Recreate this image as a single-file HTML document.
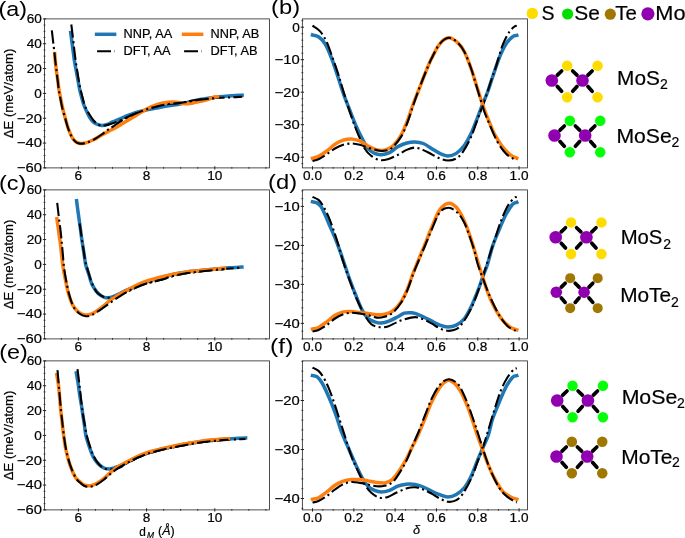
<!DOCTYPE html>
<html><head><meta charset="utf-8"><title>figure</title>
<style>html,body{margin:0;padding:0;background:#fff;} body{width:685px;height:538px;overflow:hidden;} svg{display:block;will-change:transform;} text{font-family:"Liberation Sans", sans-serif;stroke:#000;stroke-width:0.2px;}</style>
</head><body>
<svg width="685" height="538" viewBox="0 0 685 538" font-family='"Liberation Sans", sans-serif'>
<rect width="685" height="538" fill="#fff"/>
<defs>
<clipPath id="cl0"><rect x="44.5" y="18.9" width="225.0" height="149.0"/></clipPath>
<clipPath id="cr0"><rect x="302.35" y="18.9" width="225.04999999999995" height="149.0"/></clipPath>
<clipPath id="cl1"><rect x="44.5" y="189.9" width="225.0" height="148.99999999999997"/></clipPath>
<clipPath id="cr1"><rect x="302.35" y="189.9" width="225.04999999999995" height="148.99999999999997"/></clipPath>
<clipPath id="cl2"><rect x="44.5" y="360.9" width="225.0" height="149.0"/></clipPath>
<clipPath id="cr2"><rect x="302.35" y="360.9" width="225.04999999999995" height="149.0"/></clipPath>
</defs>
<path d="M70.70,32.50 C70.95,34.42 71.75,40.58 72.20,44.00 C72.65,47.42 73.05,50.33 73.40,53.00 C73.75,55.67 73.92,57.50 74.30,60.00 C74.68,62.50 75.25,65.50 75.70,68.00 C76.15,70.50 76.57,72.67 77.00,75.00 C77.43,77.33 77.83,79.50 78.30,82.00 C78.77,84.50 79.12,87.00 79.80,90.00 C80.48,93.00 81.72,97.50 82.40,100.00 C83.08,102.50 83.30,103.33 83.90,105.00 C84.50,106.67 85.25,108.33 86.00,110.00 C86.75,111.67 87.48,113.33 88.40,115.00 C89.32,116.67 90.23,118.53 91.50,120.00 C92.77,121.47 94.30,122.90 96.00,123.80 C97.70,124.70 99.87,125.28 101.70,125.40 C103.53,125.52 105.28,125.03 107.00,124.50 C108.72,123.97 110.67,122.78 112.00,122.20 C113.33,121.62 113.38,121.70 115.00,121.00 C116.62,120.30 118.63,119.27 121.70,118.00 C124.77,116.73 129.52,114.67 133.40,113.40 C137.28,112.13 141.12,111.28 145.00,110.40 C148.88,109.52 152.80,108.87 156.70,108.10 C160.60,107.33 164.50,106.48 168.40,105.80 C172.30,105.12 176.50,104.68 180.10,104.00 C183.70,103.32 186.68,102.43 190.00,101.70 C193.32,100.97 195.17,100.42 200.00,99.60 C204.83,98.78 213.67,97.43 219.00,96.80 C224.33,96.17 228.15,96.07 232.00,95.80 C235.85,95.53 240.42,95.30 242.10,95.20" fill="none" stroke="#1f77b4" stroke-width="3.5" stroke-linecap="square" stroke-linejoin="round" clip-path="url(#cl0)"/>
<path d="M71.30,24.50 C71.52,26.25 72.15,31.25 72.60,35.00 C73.05,38.75 73.62,43.67 74.00,47.00 C74.38,50.33 74.52,52.00 74.90,55.00 C75.28,58.00 75.80,61.67 76.30,65.00 C76.80,68.33 77.42,72.00 77.90,75.00 C78.38,78.00 78.75,80.50 79.20,83.00 C79.65,85.50 79.93,87.17 80.60,90.00 C81.27,92.83 82.53,97.50 83.20,100.00 C83.87,102.50 83.98,103.33 84.60,105.00 C85.22,106.67 86.03,108.33 86.90,110.00 C87.77,111.67 88.68,113.25 89.80,115.00 C90.92,116.75 92.40,119.05 93.60,120.50 C94.80,121.95 95.88,122.88 97.00,123.70 C98.12,124.52 98.80,125.13 100.30,125.40 C101.80,125.67 104.05,125.60 106.00,125.30 C107.95,125.00 109.38,124.52 112.00,123.60 C114.62,122.68 118.13,121.32 121.70,119.80 C125.27,118.28 129.52,116.15 133.40,114.50 C137.28,112.85 141.12,111.25 145.00,109.90 C148.88,108.55 152.80,107.38 156.70,106.40 C160.60,105.42 164.50,104.58 168.40,104.00 C172.30,103.42 176.50,103.38 180.10,102.90 C183.70,102.42 186.68,101.65 190.00,101.10 C193.32,100.55 196.50,100.03 200.00,99.60 C203.50,99.17 207.35,98.80 211.00,98.50 C214.65,98.20 218.27,98.00 221.90,97.80 C225.53,97.60 229.40,97.48 232.80,97.30 C236.20,97.12 240.72,96.80 242.30,96.70" fill="none" stroke="#000" stroke-width="2.1" stroke-dasharray="13.4 3.4 2.1 3.4" stroke-linecap="butt" stroke-linejoin="round" clip-path="url(#cl0)"/>
<path d="M54.70,53.60 C54.82,55.00 55.12,59.10 55.40,62.00 C55.68,64.90 56.00,68.00 56.40,71.00 C56.80,74.00 57.37,76.83 57.80,80.00 C58.23,83.17 58.53,87.00 59.00,90.00 C59.47,93.00 60.00,95.00 60.60,98.00 C61.20,101.00 61.83,104.67 62.60,108.00 C63.37,111.33 64.28,114.67 65.20,118.00 C66.12,121.33 67.15,125.17 68.10,128.00 C69.05,130.83 70.00,133.08 70.90,135.00 C71.80,136.92 72.53,138.28 73.50,139.50 C74.47,140.72 75.58,141.63 76.70,142.30 C77.82,142.97 78.98,143.33 80.20,143.50 C81.42,143.67 82.70,143.53 84.00,143.30 C85.30,143.07 86.33,142.73 88.00,142.10 C89.67,141.47 91.72,140.68 94.00,139.50 C96.28,138.32 99.30,136.35 101.70,135.00 C104.10,133.65 106.18,132.57 108.40,131.40 C110.62,130.23 112.78,129.25 115.00,128.00 C117.22,126.75 118.63,125.75 121.70,123.90 C124.77,122.05 129.52,119.23 133.40,116.90 C137.28,114.57 141.12,111.95 145.00,109.90 C148.88,107.85 152.80,105.87 156.70,104.60 C160.60,103.33 165.08,102.68 168.40,102.30 C171.72,101.92 173.87,102.05 176.60,102.30 C179.33,102.55 182.23,103.65 184.80,103.80 C187.37,103.95 189.47,103.60 192.00,103.20 C194.53,102.80 197.45,102.00 200.00,101.40 C202.55,100.80 204.87,100.33 207.30,99.60 C209.73,98.87 212.92,97.48 214.60,97.00 C216.28,96.52 216.93,96.75 217.40,96.70" fill="none" stroke="#ff7f0e" stroke-width="3.5" stroke-linecap="square" stroke-linejoin="round" clip-path="url(#cl0)"/>
<path d="M51.80,30.30 C51.93,31.42 52.35,34.85 52.60,37.00 C52.85,39.15 53.00,40.68 53.30,43.20 C53.60,45.72 54.08,49.30 54.40,52.10 C54.72,54.90 54.87,57.02 55.20,60.00 C55.53,62.98 56.00,66.67 56.40,70.00 C56.80,73.33 57.20,76.67 57.60,80.00 C58.00,83.33 58.35,87.00 58.80,90.00 C59.25,93.00 59.72,95.00 60.30,98.00 C60.88,101.00 61.50,104.67 62.30,108.00 C63.10,111.33 64.15,114.67 65.10,118.00 C66.05,121.33 67.05,125.17 68.00,128.00 C68.95,130.83 69.88,133.05 70.80,135.00 C71.72,136.95 72.52,138.43 73.50,139.70 C74.48,140.97 75.62,141.95 76.70,142.60 C77.78,143.25 78.78,143.47 80.00,143.60 C81.22,143.73 82.67,143.63 84.00,143.40 C85.33,143.17 86.33,142.85 88.00,142.20 C89.67,141.55 91.72,140.78 94.00,139.50 C96.28,138.22 99.30,136.18 101.70,134.50 C104.10,132.82 106.55,130.72 108.40,129.40 C110.25,128.08 110.58,128.08 112.80,126.60 C115.02,125.12 118.27,122.52 121.70,120.50 C125.13,118.48 129.52,116.27 133.40,114.50 C137.28,112.73 141.12,111.25 145.00,109.90 C148.88,108.55 152.80,107.38 156.70,106.40 C160.60,105.42 164.50,104.58 168.40,104.00 C172.30,103.42 176.50,103.33 180.10,102.90 C183.70,102.47 186.68,101.92 190.00,101.40 C193.32,100.88 196.50,100.28 200.00,99.80 C203.50,99.32 208.10,98.80 211.00,98.50 C213.90,98.20 216.33,98.08 217.40,98.00" fill="none" stroke="#000" stroke-width="2.1" stroke-dasharray="13.4 3.4 2.1 3.4" stroke-linecap="butt" stroke-linejoin="round" clip-path="url(#cl0)"/>
<path d="M312.50,35.00 C313.50,35.30 316.40,35.33 318.50,36.80 C320.60,38.27 322.90,40.18 325.10,43.80 C327.30,47.42 329.63,53.22 331.70,58.50 C333.77,63.78 335.57,69.70 337.50,75.50 C339.43,81.30 341.23,87.47 343.30,93.30 C345.37,99.13 347.70,104.88 349.90,110.50 C352.10,116.12 354.45,122.32 356.50,127.00 C358.55,131.68 360.28,135.02 362.20,138.60 C364.12,142.18 365.93,146.03 368.00,148.50 C370.07,150.97 372.40,152.37 374.60,153.40 C376.80,154.43 378.72,154.83 381.20,154.70 C383.68,154.57 386.75,153.92 389.50,152.60 C392.25,151.28 394.95,148.37 397.70,146.80 C400.45,145.23 403.12,144.02 406.00,143.20 C408.88,142.38 412.12,141.85 415.00,141.90 C417.88,141.95 420.55,142.40 423.30,143.50 C426.05,144.60 428.75,146.85 431.50,148.50 C434.25,150.15 437.05,152.17 439.80,153.40 C442.55,154.63 445.25,155.90 448.00,155.90 C450.75,155.90 453.55,155.18 456.30,153.40 C459.05,151.62 462.03,148.50 464.50,145.20 C466.97,141.90 468.90,138.28 471.10,133.60 C473.30,128.92 475.77,122.05 477.70,117.10 C479.63,112.15 481.05,108.08 482.70,103.90 C484.35,99.72 485.95,96.48 487.60,92.00 C489.25,87.52 490.67,82.67 492.60,77.00 C494.53,71.33 497.00,63.45 499.20,58.00 C501.40,52.55 503.60,47.83 505.80,44.30 C508.00,40.77 510.57,38.28 512.40,36.80 C514.23,35.32 516.07,35.65 516.80,35.42" fill="none" stroke="#1f77b4" stroke-width="3.5" stroke-linecap="square" stroke-linejoin="round" clip-path="url(#cr0)"/>
<path d="M312.50,25.60 C313.78,26.57 317.82,28.65 320.20,31.40 C322.58,34.15 324.88,38.12 326.80,42.10 C328.72,46.08 329.92,50.35 331.70,55.30 C333.48,60.25 335.72,66.35 337.50,71.80 C339.28,77.25 340.40,81.47 342.40,88.00 C344.40,94.53 347.15,103.95 349.50,111.00 C351.85,118.05 353.97,124.05 356.50,130.30 C359.03,136.55 362.23,144.23 364.70,148.50 C367.17,152.77 368.82,153.98 371.30,155.90 C373.78,157.82 376.85,159.45 379.60,160.00 C382.35,160.55 384.78,160.03 387.80,159.20 C390.82,158.37 394.67,156.52 397.70,155.00 C400.73,153.48 403.12,151.33 406.00,150.10 C408.88,148.87 412.12,147.60 415.00,147.60 C417.88,147.60 420.55,149.00 423.30,150.10 C426.05,151.20 428.75,152.82 431.50,154.20 C434.25,155.58 437.05,157.35 439.80,158.40 C442.55,159.45 445.25,160.50 448.00,160.50 C450.75,160.50 453.82,159.85 456.30,158.40 C458.78,156.95 460.43,155.38 462.90,151.80 C465.37,148.22 468.63,142.40 471.10,136.90 C473.57,131.40 475.77,124.02 477.70,118.80 C479.63,113.58 481.18,109.73 482.70,105.60 C484.22,101.47 485.33,98.35 486.80,94.00 C488.27,89.65 489.98,84.02 491.50,79.50 C493.02,74.98 494.07,72.58 495.90,66.90 C497.73,61.22 500.30,51.18 502.50,45.40 C504.70,39.62 507.10,35.35 509.10,32.20 C511.10,29.05 513.22,27.59 514.50,26.50 C515.78,25.41 516.42,25.79 516.80,25.65" fill="none" stroke="#000" stroke-width="2.1" stroke-dasharray="13.4 3.4 2.1 3.4" stroke-linecap="butt" stroke-linejoin="round" clip-path="url(#cr0)"/>
<path d="M312.50,158.20 C313.50,157.90 316.12,157.60 318.50,156.40 C320.88,155.20 324.05,153.02 326.80,151.00 C329.55,148.98 332.25,146.10 335.00,144.30 C337.75,142.50 340.55,141.10 343.30,140.20 C346.05,139.30 348.75,138.77 351.50,138.90 C354.25,139.03 357.05,139.82 359.80,141.00 C362.55,142.18 365.25,144.53 368.00,146.00 C370.75,147.47 373.55,149.12 376.30,149.80 C379.05,150.48 381.75,150.73 384.50,150.10 C387.25,149.47 390.05,148.47 392.80,146.00 C395.55,143.53 398.53,139.57 401.00,135.30 C403.47,131.03 405.60,125.53 407.60,120.40 C409.60,115.27 411.22,109.40 413.00,104.50 C414.78,99.60 416.32,96.08 418.30,91.00 C420.28,85.92 422.70,79.40 424.90,74.00 C427.10,68.60 429.02,63.63 431.50,58.60 C433.98,53.57 436.92,47.27 439.80,43.80 C442.68,40.33 445.78,37.95 448.80,37.80 C451.82,37.65 455.28,40.53 457.90,42.90 C460.52,45.27 462.30,47.73 464.50,52.00 C466.70,56.27 469.18,63.17 471.10,68.50 C473.02,73.83 474.43,79.08 476.00,84.00 C477.57,88.92 479.00,93.42 480.50,98.00 C482.00,102.58 483.50,107.42 485.00,111.50 C486.50,115.58 487.97,118.82 489.50,122.50 C491.03,126.18 492.03,129.55 494.20,133.60 C496.37,137.65 499.75,143.22 502.50,146.80 C505.25,150.38 508.32,153.21 510.70,155.10 C513.08,156.99 515.78,157.64 516.80,158.15" fill="none" stroke="#ff7f0e" stroke-width="3.5" stroke-linecap="square" stroke-linejoin="round" clip-path="url(#cr0)"/>
<path d="M312.50,160.90 C313.50,160.62 316.12,160.32 318.50,159.20 C320.88,158.08 324.05,155.98 326.80,154.20 C329.55,152.42 332.25,150.07 335.00,148.50 C337.75,146.93 340.55,145.63 343.30,144.80 C346.05,143.97 348.75,143.50 351.50,143.50 C354.25,143.50 357.05,144.12 359.80,144.80 C362.55,145.48 365.25,146.72 368.00,147.60 C370.75,148.48 373.82,149.55 376.30,150.10 C378.78,150.65 380.43,151.17 382.90,150.90 C385.37,150.63 388.08,150.83 391.10,148.50 C394.12,146.17 398.25,141.32 401.00,136.90 C403.75,132.48 405.60,127.15 407.60,122.00 C409.60,116.85 411.22,111.17 413.00,106.00 C414.78,100.83 416.32,96.33 418.30,91.00 C420.28,85.67 422.70,79.40 424.90,74.00 C427.10,68.60 429.02,63.63 431.50,58.60 C433.98,53.57 436.92,47.27 439.80,43.80 C442.68,40.33 445.78,37.95 448.80,37.80 C451.82,37.65 455.28,40.53 457.90,42.90 C460.52,45.27 462.30,47.73 464.50,52.00 C466.70,56.27 469.18,63.08 471.10,68.50 C473.02,73.92 474.43,79.33 476.00,84.50 C477.57,89.67 479.08,94.92 480.50,99.50 C481.92,104.08 483.03,107.97 484.50,112.00 C485.97,116.03 487.13,118.72 489.30,123.70 C491.47,128.68 494.75,136.95 497.50,141.90 C500.25,146.85 503.05,150.52 505.80,153.40 C508.55,156.28 512.17,158.13 514.00,159.20 C515.83,160.27 516.33,159.70 516.80,159.80" fill="none" stroke="#000" stroke-width="2.1" stroke-dasharray="13.4 3.4 2.1 3.4" stroke-linecap="butt" stroke-linejoin="round" clip-path="url(#cr0)"/>
<rect x="44.50" y="18.90" width="225.00" height="149.00" fill="none" stroke="#222" stroke-width="0.8"/>
<line x1="43.55" y1="161.69" x2="45.45" y2="161.69" stroke="#222" stroke-width="0.8"/>
<line x1="43.55" y1="155.48" x2="45.45" y2="155.48" stroke="#222" stroke-width="0.8"/>
<line x1="43.55" y1="149.28" x2="45.45" y2="149.28" stroke="#222" stroke-width="0.8"/>
<line x1="43.55" y1="136.86" x2="45.45" y2="136.86" stroke="#222" stroke-width="0.8"/>
<line x1="43.55" y1="130.65" x2="45.45" y2="130.65" stroke="#222" stroke-width="0.8"/>
<line x1="43.55" y1="124.44" x2="45.45" y2="124.44" stroke="#222" stroke-width="0.8"/>
<line x1="43.55" y1="112.03" x2="45.45" y2="112.03" stroke="#222" stroke-width="0.8"/>
<line x1="43.55" y1="105.82" x2="45.45" y2="105.82" stroke="#222" stroke-width="0.8"/>
<line x1="43.55" y1="99.61" x2="45.45" y2="99.61" stroke="#222" stroke-width="0.8"/>
<line x1="43.55" y1="87.19" x2="45.45" y2="87.19" stroke="#222" stroke-width="0.8"/>
<line x1="43.55" y1="80.98" x2="45.45" y2="80.98" stroke="#222" stroke-width="0.8"/>
<line x1="43.55" y1="74.78" x2="45.45" y2="74.78" stroke="#222" stroke-width="0.8"/>
<line x1="43.55" y1="62.36" x2="45.45" y2="62.36" stroke="#222" stroke-width="0.8"/>
<line x1="43.55" y1="56.15" x2="45.45" y2="56.15" stroke="#222" stroke-width="0.8"/>
<line x1="43.55" y1="49.94" x2="45.45" y2="49.94" stroke="#222" stroke-width="0.8"/>
<line x1="43.55" y1="37.52" x2="45.45" y2="37.52" stroke="#222" stroke-width="0.8"/>
<line x1="43.55" y1="31.32" x2="45.45" y2="31.32" stroke="#222" stroke-width="0.8"/>
<line x1="43.55" y1="25.11" x2="45.45" y2="25.11" stroke="#222" stroke-width="0.8"/>
<line x1="42.85" y1="18.90" x2="46.15" y2="18.90" stroke="#222" stroke-width="1"/>
<text x="41.90" y="23.20" font-size="12.61" text-anchor="end" textLength="15.14" lengthAdjust="spacingAndGlyphs" fill="#000">60</text>
<line x1="42.85" y1="43.73" x2="46.15" y2="43.73" stroke="#222" stroke-width="1"/>
<text x="41.90" y="48.03" font-size="12.61" text-anchor="end" textLength="15.14" lengthAdjust="spacingAndGlyphs" fill="#000">40</text>
<line x1="42.85" y1="68.57" x2="46.15" y2="68.57" stroke="#222" stroke-width="1"/>
<text x="41.90" y="72.87" font-size="12.61" text-anchor="end" textLength="15.14" lengthAdjust="spacingAndGlyphs" fill="#000">20</text>
<line x1="42.85" y1="93.40" x2="46.15" y2="93.40" stroke="#222" stroke-width="1"/>
<text x="41.90" y="97.70" font-size="12.61" text-anchor="end" textLength="7.57" lengthAdjust="spacingAndGlyphs" fill="#000">0</text>
<line x1="42.85" y1="118.23" x2="46.15" y2="118.23" stroke="#222" stroke-width="1"/>
<text x="41.90" y="122.53" font-size="12.61" text-anchor="end" textLength="25.11" lengthAdjust="spacingAndGlyphs" fill="#000">−20</text>
<line x1="42.85" y1="143.07" x2="46.15" y2="143.07" stroke="#222" stroke-width="1"/>
<text x="41.90" y="147.37" font-size="12.61" text-anchor="end" textLength="25.11" lengthAdjust="spacingAndGlyphs" fill="#000">−40</text>
<line x1="42.85" y1="167.90" x2="46.15" y2="167.90" stroke="#222" stroke-width="1"/>
<text x="41.90" y="172.20" font-size="12.61" text-anchor="end" textLength="25.11" lengthAdjust="spacingAndGlyphs" fill="#000">−60</text>
<line x1="61.35" y1="166.95" x2="61.35" y2="168.85" stroke="#222" stroke-width="0.8"/>
<line x1="95.45" y1="166.95" x2="95.45" y2="168.85" stroke="#222" stroke-width="0.8"/>
<line x1="112.50" y1="166.95" x2="112.50" y2="168.85" stroke="#222" stroke-width="0.8"/>
<line x1="129.55" y1="166.95" x2="129.55" y2="168.85" stroke="#222" stroke-width="0.8"/>
<line x1="163.65" y1="166.95" x2="163.65" y2="168.85" stroke="#222" stroke-width="0.8"/>
<line x1="180.70" y1="166.95" x2="180.70" y2="168.85" stroke="#222" stroke-width="0.8"/>
<line x1="197.75" y1="166.95" x2="197.75" y2="168.85" stroke="#222" stroke-width="0.8"/>
<line x1="231.85" y1="166.95" x2="231.85" y2="168.85" stroke="#222" stroke-width="0.8"/>
<line x1="248.90" y1="166.95" x2="248.90" y2="168.85" stroke="#222" stroke-width="0.8"/>
<line x1="265.95" y1="166.95" x2="265.95" y2="168.85" stroke="#222" stroke-width="0.8"/>
<line x1="78.40" y1="166.25" x2="78.40" y2="169.55" stroke="#222" stroke-width="1"/>
<text x="78.40" y="179.80" font-size="12.61" text-anchor="middle" textLength="7.57" lengthAdjust="spacingAndGlyphs" fill="#000">6</text>
<line x1="146.60" y1="166.25" x2="146.60" y2="169.55" stroke="#222" stroke-width="1"/>
<text x="146.60" y="179.80" font-size="12.61" text-anchor="middle" textLength="7.57" lengthAdjust="spacingAndGlyphs" fill="#000">8</text>
<line x1="214.80" y1="166.25" x2="214.80" y2="169.55" stroke="#222" stroke-width="1"/>
<text x="214.80" y="179.80" font-size="12.61" text-anchor="middle" textLength="15.14" lengthAdjust="spacingAndGlyphs" fill="#000">10</text>
<rect x="302.35" y="18.90" width="225.05" height="149.00" fill="none" stroke="#222" stroke-width="0.8"/>
<line x1="301.40" y1="163.70" x2="303.30" y2="163.70" stroke="#222" stroke-width="0.8"/>
<line x1="301.40" y1="150.70" x2="303.30" y2="150.70" stroke="#222" stroke-width="0.8"/>
<line x1="301.40" y1="144.20" x2="303.30" y2="144.20" stroke="#222" stroke-width="0.8"/>
<line x1="301.40" y1="137.70" x2="303.30" y2="137.70" stroke="#222" stroke-width="0.8"/>
<line x1="301.40" y1="131.20" x2="303.30" y2="131.20" stroke="#222" stroke-width="0.8"/>
<line x1="301.40" y1="118.20" x2="303.30" y2="118.20" stroke="#222" stroke-width="0.8"/>
<line x1="301.40" y1="111.70" x2="303.30" y2="111.70" stroke="#222" stroke-width="0.8"/>
<line x1="301.40" y1="105.20" x2="303.30" y2="105.20" stroke="#222" stroke-width="0.8"/>
<line x1="301.40" y1="98.70" x2="303.30" y2="98.70" stroke="#222" stroke-width="0.8"/>
<line x1="301.40" y1="85.70" x2="303.30" y2="85.70" stroke="#222" stroke-width="0.8"/>
<line x1="301.40" y1="79.20" x2="303.30" y2="79.20" stroke="#222" stroke-width="0.8"/>
<line x1="301.40" y1="72.70" x2="303.30" y2="72.70" stroke="#222" stroke-width="0.8"/>
<line x1="301.40" y1="66.20" x2="303.30" y2="66.20" stroke="#222" stroke-width="0.8"/>
<line x1="301.40" y1="53.20" x2="303.30" y2="53.20" stroke="#222" stroke-width="0.8"/>
<line x1="301.40" y1="46.70" x2="303.30" y2="46.70" stroke="#222" stroke-width="0.8"/>
<line x1="301.40" y1="40.20" x2="303.30" y2="40.20" stroke="#222" stroke-width="0.8"/>
<line x1="301.40" y1="33.70" x2="303.30" y2="33.70" stroke="#222" stroke-width="0.8"/>
<line x1="301.40" y1="20.70" x2="303.30" y2="20.70" stroke="#222" stroke-width="0.8"/>
<line x1="300.70" y1="27.20" x2="304.00" y2="27.20" stroke="#222" stroke-width="1"/>
<text x="299.75" y="31.50" font-size="12.61" text-anchor="end" textLength="7.57" lengthAdjust="spacingAndGlyphs" fill="#000">0</text>
<line x1="300.70" y1="59.70" x2="304.00" y2="59.70" stroke="#222" stroke-width="1"/>
<text x="299.75" y="64.00" font-size="12.61" text-anchor="end" textLength="25.11" lengthAdjust="spacingAndGlyphs" fill="#000">−10</text>
<line x1="300.70" y1="92.20" x2="304.00" y2="92.20" stroke="#222" stroke-width="1"/>
<text x="299.75" y="96.50" font-size="12.61" text-anchor="end" textLength="25.11" lengthAdjust="spacingAndGlyphs" fill="#000">−20</text>
<line x1="300.70" y1="124.70" x2="304.00" y2="124.70" stroke="#222" stroke-width="1"/>
<text x="299.75" y="129.00" font-size="12.61" text-anchor="end" textLength="25.11" lengthAdjust="spacingAndGlyphs" fill="#000">−30</text>
<line x1="300.70" y1="157.20" x2="304.00" y2="157.20" stroke="#222" stroke-width="1"/>
<text x="299.75" y="161.50" font-size="12.61" text-anchor="end" textLength="25.11" lengthAdjust="spacingAndGlyphs" fill="#000">−40</text>
<line x1="322.83" y1="166.95" x2="322.83" y2="168.85" stroke="#222" stroke-width="0.8"/>
<line x1="333.16" y1="166.95" x2="333.16" y2="168.85" stroke="#222" stroke-width="0.8"/>
<line x1="343.49" y1="166.95" x2="343.49" y2="168.85" stroke="#222" stroke-width="0.8"/>
<line x1="364.15" y1="166.95" x2="364.15" y2="168.85" stroke="#222" stroke-width="0.8"/>
<line x1="374.48" y1="166.95" x2="374.48" y2="168.85" stroke="#222" stroke-width="0.8"/>
<line x1="384.81" y1="166.95" x2="384.81" y2="168.85" stroke="#222" stroke-width="0.8"/>
<line x1="405.47" y1="166.95" x2="405.47" y2="168.85" stroke="#222" stroke-width="0.8"/>
<line x1="415.80" y1="166.95" x2="415.80" y2="168.85" stroke="#222" stroke-width="0.8"/>
<line x1="426.13" y1="166.95" x2="426.13" y2="168.85" stroke="#222" stroke-width="0.8"/>
<line x1="446.79" y1="166.95" x2="446.79" y2="168.85" stroke="#222" stroke-width="0.8"/>
<line x1="457.12" y1="166.95" x2="457.12" y2="168.85" stroke="#222" stroke-width="0.8"/>
<line x1="467.45" y1="166.95" x2="467.45" y2="168.85" stroke="#222" stroke-width="0.8"/>
<line x1="488.11" y1="166.95" x2="488.11" y2="168.85" stroke="#222" stroke-width="0.8"/>
<line x1="498.44" y1="166.95" x2="498.44" y2="168.85" stroke="#222" stroke-width="0.8"/>
<line x1="508.77" y1="166.95" x2="508.77" y2="168.85" stroke="#222" stroke-width="0.8"/>
<line x1="312.50" y1="166.25" x2="312.50" y2="169.55" stroke="#222" stroke-width="1"/>
<text x="312.50" y="179.80" font-size="12.61" text-anchor="middle" textLength="18.92" lengthAdjust="spacingAndGlyphs" fill="#000">0.0</text>
<line x1="353.82" y1="166.25" x2="353.82" y2="169.55" stroke="#222" stroke-width="1"/>
<text x="353.82" y="179.80" font-size="12.61" text-anchor="middle" textLength="18.92" lengthAdjust="spacingAndGlyphs" fill="#000">0.2</text>
<line x1="395.14" y1="166.25" x2="395.14" y2="169.55" stroke="#222" stroke-width="1"/>
<text x="395.14" y="179.80" font-size="12.61" text-anchor="middle" textLength="18.92" lengthAdjust="spacingAndGlyphs" fill="#000">0.4</text>
<line x1="436.46" y1="166.25" x2="436.46" y2="169.55" stroke="#222" stroke-width="1"/>
<text x="436.46" y="179.80" font-size="12.61" text-anchor="middle" textLength="18.92" lengthAdjust="spacingAndGlyphs" fill="#000">0.6</text>
<line x1="477.78" y1="166.25" x2="477.78" y2="169.55" stroke="#222" stroke-width="1"/>
<text x="477.78" y="179.80" font-size="12.61" text-anchor="middle" textLength="18.92" lengthAdjust="spacingAndGlyphs" fill="#000">0.8</text>
<line x1="519.10" y1="166.25" x2="519.10" y2="169.55" stroke="#222" stroke-width="1"/>
<text x="519.10" y="179.80" font-size="12.61" text-anchor="middle" textLength="18.92" lengthAdjust="spacingAndGlyphs" fill="#000">1.0</text>
<text x="12.80" y="93.40" font-size="12.46" text-anchor="middle" textLength="89.48" lengthAdjust="spacingAndGlyphs" fill="#000" transform="rotate(-90 12.8 93.40)">ΔE (meV/atom)</text>
<path d="M76.60,200.80 C76.80,202.33 77.42,207.15 77.80,210.00 C78.18,212.85 78.48,214.90 78.90,217.90 C79.32,220.90 79.83,224.52 80.30,228.00 C80.77,231.48 81.25,235.63 81.70,238.80 C82.15,241.97 82.58,244.30 83.00,247.00 C83.42,249.70 83.73,252.00 84.20,255.00 C84.67,258.00 85.03,261.78 85.80,265.00 C86.57,268.22 87.82,271.18 88.80,274.30 C89.78,277.42 90.43,280.87 91.70,283.70 C92.97,286.53 94.85,289.32 96.40,291.30 C97.95,293.28 99.45,294.53 101.00,295.60 C102.55,296.67 104.13,297.38 105.70,297.70 C107.27,298.02 108.85,297.80 110.40,297.50 C111.95,297.20 113.25,296.65 115.00,295.90 C116.75,295.15 118.95,293.95 120.90,293.00 C122.85,292.05 124.75,291.07 126.70,290.20 C128.65,289.33 130.65,288.63 132.60,287.80 C134.55,286.97 136.47,286.03 138.40,285.20 C140.33,284.37 142.25,283.53 144.20,282.80 C146.15,282.07 147.47,281.62 150.10,280.80 C152.73,279.98 155.90,279.03 160.00,277.90 C164.10,276.77 170.43,274.95 174.70,274.00 C178.97,273.05 181.95,272.72 185.60,272.20 C189.25,271.68 192.95,271.30 196.60,270.90 C200.25,270.50 203.85,270.15 207.50,269.80 C211.15,269.45 214.75,269.13 218.50,268.80 C222.25,268.47 226.10,268.08 230.00,267.80 C233.90,267.52 239.92,267.22 241.90,267.10" fill="none" stroke="#1f77b4" stroke-width="3.5" stroke-linecap="square" stroke-linejoin="round" clip-path="url(#cl1)"/>
<path d="M79.60,223.50 C79.83,225.08 80.53,229.75 81.00,233.00 C81.47,236.25 81.90,239.67 82.40,243.00 C82.90,246.33 83.50,249.83 84.00,253.00 C84.50,256.17 84.90,259.62 85.40,262.00 C85.90,264.38 86.37,265.13 87.00,267.30 C87.63,269.47 88.42,272.47 89.20,275.00 C89.98,277.53 90.82,280.25 91.70,282.50 C92.58,284.75 93.53,286.75 94.50,288.50 C95.47,290.25 96.02,291.62 97.50,293.00 C98.98,294.38 101.45,296.02 103.40,296.80 C105.35,297.58 107.27,297.75 109.20,297.70 C111.13,297.65 113.05,297.03 115.00,296.50 C116.95,295.97 118.95,295.25 120.90,294.50 C122.85,293.75 124.75,292.88 126.70,292.00 C128.65,291.12 130.65,290.10 132.60,289.20 C134.55,288.30 136.47,287.42 138.40,286.60 C140.33,285.78 142.25,284.98 144.20,284.30 C146.15,283.62 147.47,283.22 150.10,282.50 C152.73,281.78 155.90,281.15 160.00,280.00 C164.10,278.85 170.43,276.70 174.70,275.60 C178.97,274.50 181.95,274.02 185.60,273.40 C189.25,272.78 192.95,272.35 196.60,271.90 C200.25,271.45 203.85,271.08 207.50,270.70 C211.15,270.32 214.75,269.97 218.50,269.60 C222.25,269.23 226.10,268.83 230.00,268.50 C233.90,268.17 239.92,267.75 241.90,267.60" fill="none" stroke="#000" stroke-width="2.1" stroke-dasharray="13.4 3.4 2.1 3.4" stroke-linecap="butt" stroke-linejoin="round" clip-path="url(#cl1)"/>
<path d="M56.90,218.80 C57.10,220.17 57.70,224.13 58.10,227.00 C58.50,229.87 58.87,232.83 59.30,236.00 C59.73,239.17 60.32,242.83 60.70,246.00 C61.08,249.17 61.20,251.45 61.60,255.00 C62.00,258.55 62.47,263.18 63.10,267.30 C63.73,271.42 64.50,275.33 65.40,279.70 C66.30,284.07 67.22,289.15 68.50,293.50 C69.78,297.85 71.30,302.62 73.10,305.80 C74.90,308.98 77.18,311.07 79.30,312.60 C81.42,314.13 83.73,314.80 85.80,315.00 C87.87,315.20 89.75,314.55 91.70,313.80 C93.65,313.05 95.55,311.78 97.50,310.50 C99.45,309.22 101.45,307.65 103.40,306.10 C105.35,304.55 107.27,302.70 109.20,301.20 C111.13,299.70 113.05,298.37 115.00,297.10 C116.95,295.83 118.95,294.70 120.90,293.60 C122.85,292.50 124.75,291.57 126.70,290.50 C128.65,289.43 130.65,288.23 132.60,287.20 C134.55,286.17 136.47,285.18 138.40,284.30 C140.33,283.42 142.25,282.62 144.20,281.90 C146.15,281.18 147.47,280.77 150.10,280.00 C152.73,279.23 155.90,278.30 160.00,277.30 C164.10,276.30 170.43,274.85 174.70,274.00 C178.97,273.15 181.95,272.72 185.60,272.20 C189.25,271.68 192.95,271.30 196.60,270.90 C200.25,270.50 203.85,270.15 207.50,269.80 C211.15,269.45 215.67,269.05 218.50,268.80 C221.33,268.55 223.50,268.38 224.50,268.30" fill="none" stroke="#ff7f0e" stroke-width="3.5" stroke-linecap="square" stroke-linejoin="round" clip-path="url(#cl1)"/>
<path d="M57.20,202.80 C57.43,204.85 58.18,211.57 58.60,215.10 C59.02,218.63 59.35,221.22 59.70,224.00 C60.05,226.78 60.33,228.47 60.70,231.80 C61.07,235.13 61.53,240.13 61.90,244.00 C62.27,247.87 62.55,251.12 62.90,255.00 C63.25,258.88 63.48,263.18 64.00,267.30 C64.52,271.42 65.18,275.33 66.00,279.70 C66.82,284.07 67.68,289.07 68.90,293.50 C70.12,297.93 71.57,302.97 73.30,306.30 C75.03,309.63 77.18,311.85 79.30,313.50 C81.42,315.15 83.93,315.95 86.00,316.20 C88.07,316.45 89.78,315.75 91.70,315.00 C93.62,314.25 95.55,312.93 97.50,311.70 C99.45,310.47 101.45,308.97 103.40,307.60 C105.35,306.23 107.27,304.87 109.20,303.50 C111.13,302.13 113.05,300.72 115.00,299.40 C116.95,298.08 118.95,296.82 120.90,295.60 C122.85,294.38 124.75,293.22 126.70,292.10 C128.65,290.98 130.65,289.85 132.60,288.90 C134.55,287.95 136.47,287.17 138.40,286.40 C140.33,285.63 142.25,284.95 144.20,284.30 C146.15,283.65 147.47,283.22 150.10,282.50 C152.73,281.78 155.90,281.15 160.00,280.00 C164.10,278.85 170.43,276.70 174.70,275.60 C178.97,274.50 181.95,274.02 185.60,273.40 C189.25,272.78 192.95,272.35 196.60,271.90 C200.25,271.45 203.85,271.08 207.50,270.70 C211.15,270.32 215.67,269.87 218.50,269.60 C221.33,269.33 223.50,269.18 224.50,269.10" fill="none" stroke="#000" stroke-width="2.1" stroke-dasharray="13.4 3.4 2.1 3.4" stroke-linecap="butt" stroke-linejoin="round" clip-path="url(#cl1)"/>
<path d="M312.50,201.80 C313.23,201.98 315.48,202.12 316.90,202.90 C318.32,203.68 319.63,204.52 321.00,206.50 C322.37,208.48 323.60,211.50 325.10,214.80 C326.60,218.10 328.35,222.45 330.00,226.30 C331.65,230.15 333.33,233.77 335.00,237.90 C336.67,242.03 338.48,246.92 340.00,251.10 C341.52,255.28 342.45,258.18 344.10,263.00 C345.75,267.82 347.83,274.33 349.90,280.00 C351.97,285.67 354.45,291.97 356.50,297.00 C358.55,302.03 360.28,306.62 362.20,310.20 C364.12,313.78 365.93,316.57 368.00,318.50 C370.07,320.43 372.40,321.03 374.60,321.80 C376.80,322.57 378.72,323.25 381.20,323.10 C383.68,322.95 386.75,321.95 389.50,320.90 C392.25,319.85 395.23,318.08 397.70,316.80 C400.17,315.52 402.10,313.88 404.30,313.20 C406.50,312.52 409.12,312.68 410.90,312.70 C412.68,312.72 412.93,312.62 415.00,313.30 C417.07,313.98 420.55,315.53 423.30,316.80 C426.05,318.07 428.75,319.52 431.50,320.90 C434.25,322.28 437.05,324.08 439.80,325.10 C442.55,326.12 445.25,327.00 448.00,327.00 C450.75,327.00 453.55,326.52 456.30,325.10 C459.05,323.68 462.03,321.53 464.50,318.50 C466.97,315.47 468.90,311.45 471.10,306.90 C473.30,302.35 475.77,296.15 477.70,291.20 C479.63,286.25 481.05,281.73 482.70,277.20 C484.35,272.67 485.95,269.18 487.60,264.00 C489.25,258.82 490.67,251.83 492.60,246.10 C494.53,240.37 497.00,234.82 499.20,229.60 C501.40,224.38 503.60,218.98 505.80,214.80 C508.00,210.62 510.57,206.58 512.40,204.50 C514.23,202.42 516.07,202.69 516.80,202.33" fill="none" stroke="#1f77b4" stroke-width="3.5" stroke-linecap="square" stroke-linejoin="round" clip-path="url(#cr1)"/>
<path d="M312.50,196.90 C313.50,197.40 316.67,198.30 318.50,199.90 C320.33,201.50 321.85,203.75 323.50,206.50 C325.15,209.25 326.75,212.55 328.40,216.40 C330.05,220.25 331.75,224.92 333.40,229.60 C335.05,234.28 336.65,239.10 338.30,244.50 C339.95,249.90 341.10,255.17 343.30,262.00 C345.50,268.83 349.03,278.83 351.50,285.50 C353.97,292.17 355.90,297.05 358.10,302.00 C360.30,306.95 362.50,311.50 364.70,315.20 C366.90,318.90 368.82,322.20 371.30,324.20 C373.78,326.20 376.85,326.83 379.60,327.20 C382.35,327.57 385.05,327.17 387.80,326.40 C390.55,325.63 393.35,323.78 396.10,322.60 C398.85,321.42 401.15,320.22 404.30,319.30 C407.45,318.38 411.83,317.10 415.00,317.10 C418.17,317.10 420.55,318.25 423.30,319.30 C426.05,320.35 428.75,321.88 431.50,323.40 C434.25,324.92 437.05,327.17 439.80,328.40 C442.55,329.63 445.25,330.67 448.00,330.80 C450.75,330.93 453.82,330.57 456.30,329.20 C458.78,327.83 460.43,326.03 462.90,322.60 C465.37,319.17 468.63,313.68 471.10,308.60 C473.57,303.52 475.77,297.33 477.70,292.10 C479.63,286.87 481.18,281.88 482.70,277.20 C484.22,272.52 484.88,270.00 486.80,264.00 C488.72,258.00 491.87,248.30 494.20,241.20 C496.53,234.10 498.60,227.18 500.80,221.40 C503.00,215.62 505.20,210.40 507.40,206.50 C509.60,202.60 512.43,199.56 514.00,198.00 C515.57,196.44 516.33,197.27 516.80,197.12" fill="none" stroke="#000" stroke-width="2.1" stroke-dasharray="13.4 3.4 2.1 3.4" stroke-linecap="butt" stroke-linejoin="round" clip-path="url(#cr1)"/>
<path d="M312.50,329.00 C313.50,328.75 316.12,328.70 318.50,327.50 C320.88,326.30 324.05,323.85 326.80,321.80 C329.55,319.75 332.25,316.85 335.00,315.20 C337.75,313.55 340.55,312.52 343.30,311.90 C346.05,311.28 348.75,311.37 351.50,311.50 C354.25,311.63 357.05,312.37 359.80,312.70 C362.55,313.03 365.25,313.15 368.00,313.50 C370.75,313.85 373.55,314.67 376.30,314.80 C379.05,314.93 381.75,314.93 384.50,314.30 C387.25,313.67 390.05,313.05 392.80,311.00 C395.55,308.95 398.53,305.70 401.00,302.00 C403.47,298.30 405.60,293.55 407.60,288.80 C409.60,284.05 411.22,278.22 413.00,273.50 C414.78,268.78 416.32,265.33 418.30,260.50 C420.28,255.67 422.70,249.92 424.90,244.50 C427.10,239.08 429.02,233.78 431.50,228.00 C433.98,222.22 436.92,213.93 439.80,209.80 C442.68,205.67 446.05,203.62 448.80,203.20 C451.55,202.78 453.95,204.82 456.30,207.30 C458.65,209.78 460.70,213.55 462.90,218.10 C465.10,222.65 467.57,229.20 469.50,234.60 C471.43,240.00 473.00,245.60 474.50,250.50 C476.00,255.40 477.13,259.55 478.50,264.00 C479.87,268.45 481.18,272.52 482.70,277.20 C484.22,281.88 485.68,287.15 487.60,292.10 C489.52,297.05 491.72,302.23 494.20,306.90 C496.68,311.57 499.75,316.67 502.50,320.10 C505.25,323.53 508.32,325.88 510.70,327.50 C513.08,329.12 515.78,329.43 516.80,329.81" fill="none" stroke="#ff7f0e" stroke-width="3.5" stroke-linecap="square" stroke-linejoin="round" clip-path="url(#cr1)"/>
<path d="M312.50,331.50 C313.50,331.25 316.12,331.07 318.50,330.00 C320.88,328.93 324.05,327.02 326.80,325.10 C329.55,323.18 332.25,320.30 335.00,318.50 C337.75,316.70 340.55,315.27 343.30,314.30 C346.05,313.33 348.75,312.83 351.50,312.70 C354.25,312.57 357.05,313.08 359.80,313.50 C362.55,313.92 365.25,314.52 368.00,315.20 C370.75,315.88 373.55,317.33 376.30,317.60 C379.05,317.87 381.75,317.62 384.50,316.80 C387.25,315.98 390.05,315.03 392.80,312.70 C395.55,310.37 398.53,306.65 401.00,302.80 C403.47,298.95 405.60,294.32 407.60,289.60 C409.60,284.88 411.22,279.18 413.00,274.50 C414.78,269.82 416.32,266.25 418.30,261.50 C420.28,256.75 422.70,251.25 424.90,246.00 C427.10,240.75 429.02,235.62 431.50,230.00 C433.98,224.38 436.92,216.00 439.80,212.30 C442.68,208.60 445.78,207.67 448.80,207.80 C451.82,207.93 455.28,210.57 457.90,213.10 C460.52,215.63 462.48,218.93 464.50,223.00 C466.52,227.07 468.33,232.83 470.00,237.50 C471.67,242.17 473.22,246.58 474.50,251.00 C475.78,255.42 476.07,258.80 477.70,264.00 C479.33,269.20 482.10,276.42 484.30,282.20 C486.50,287.98 488.42,293.20 490.90,298.70 C493.38,304.20 496.45,310.67 499.20,315.20 C501.95,319.73 504.65,323.30 507.40,325.90 C510.15,328.50 514.13,329.95 515.70,330.80 C517.27,331.65 516.62,330.99 516.80,331.03" fill="none" stroke="#000" stroke-width="2.1" stroke-dasharray="13.4 3.4 2.1 3.4" stroke-linecap="butt" stroke-linejoin="round" clip-path="url(#cr1)"/>
<rect x="44.50" y="189.90" width="225.00" height="149.00" fill="none" stroke="#222" stroke-width="0.8"/>
<line x1="43.55" y1="332.69" x2="45.45" y2="332.69" stroke="#222" stroke-width="0.8"/>
<line x1="43.55" y1="326.48" x2="45.45" y2="326.48" stroke="#222" stroke-width="0.8"/>
<line x1="43.55" y1="320.27" x2="45.45" y2="320.27" stroke="#222" stroke-width="0.8"/>
<line x1="43.55" y1="307.86" x2="45.45" y2="307.86" stroke="#222" stroke-width="0.8"/>
<line x1="43.55" y1="301.65" x2="45.45" y2="301.65" stroke="#222" stroke-width="0.8"/>
<line x1="43.55" y1="295.44" x2="45.45" y2="295.44" stroke="#222" stroke-width="0.8"/>
<line x1="43.55" y1="283.02" x2="45.45" y2="283.02" stroke="#222" stroke-width="0.8"/>
<line x1="43.55" y1="276.82" x2="45.45" y2="276.82" stroke="#222" stroke-width="0.8"/>
<line x1="43.55" y1="270.61" x2="45.45" y2="270.61" stroke="#222" stroke-width="0.8"/>
<line x1="43.55" y1="258.19" x2="45.45" y2="258.19" stroke="#222" stroke-width="0.8"/>
<line x1="43.55" y1="251.98" x2="45.45" y2="251.98" stroke="#222" stroke-width="0.8"/>
<line x1="43.55" y1="245.78" x2="45.45" y2="245.78" stroke="#222" stroke-width="0.8"/>
<line x1="43.55" y1="233.36" x2="45.45" y2="233.36" stroke="#222" stroke-width="0.8"/>
<line x1="43.55" y1="227.15" x2="45.45" y2="227.15" stroke="#222" stroke-width="0.8"/>
<line x1="43.55" y1="220.94" x2="45.45" y2="220.94" stroke="#222" stroke-width="0.8"/>
<line x1="43.55" y1="208.53" x2="45.45" y2="208.53" stroke="#222" stroke-width="0.8"/>
<line x1="43.55" y1="202.32" x2="45.45" y2="202.32" stroke="#222" stroke-width="0.8"/>
<line x1="43.55" y1="196.11" x2="45.45" y2="196.11" stroke="#222" stroke-width="0.8"/>
<line x1="42.85" y1="189.90" x2="46.15" y2="189.90" stroke="#222" stroke-width="1"/>
<text x="41.90" y="194.20" font-size="12.61" text-anchor="end" textLength="15.14" lengthAdjust="spacingAndGlyphs" fill="#000">60</text>
<line x1="42.85" y1="214.73" x2="46.15" y2="214.73" stroke="#222" stroke-width="1"/>
<text x="41.90" y="219.03" font-size="12.61" text-anchor="end" textLength="15.14" lengthAdjust="spacingAndGlyphs" fill="#000">40</text>
<line x1="42.85" y1="239.57" x2="46.15" y2="239.57" stroke="#222" stroke-width="1"/>
<text x="41.90" y="243.87" font-size="12.61" text-anchor="end" textLength="15.14" lengthAdjust="spacingAndGlyphs" fill="#000">20</text>
<line x1="42.85" y1="264.40" x2="46.15" y2="264.40" stroke="#222" stroke-width="1"/>
<text x="41.90" y="268.70" font-size="12.61" text-anchor="end" textLength="7.57" lengthAdjust="spacingAndGlyphs" fill="#000">0</text>
<line x1="42.85" y1="289.23" x2="46.15" y2="289.23" stroke="#222" stroke-width="1"/>
<text x="41.90" y="293.53" font-size="12.61" text-anchor="end" textLength="25.11" lengthAdjust="spacingAndGlyphs" fill="#000">−20</text>
<line x1="42.85" y1="314.07" x2="46.15" y2="314.07" stroke="#222" stroke-width="1"/>
<text x="41.90" y="318.37" font-size="12.61" text-anchor="end" textLength="25.11" lengthAdjust="spacingAndGlyphs" fill="#000">−40</text>
<line x1="42.85" y1="338.90" x2="46.15" y2="338.90" stroke="#222" stroke-width="1"/>
<text x="41.90" y="343.20" font-size="12.61" text-anchor="end" textLength="25.11" lengthAdjust="spacingAndGlyphs" fill="#000">−60</text>
<line x1="61.35" y1="337.95" x2="61.35" y2="339.85" stroke="#222" stroke-width="0.8"/>
<line x1="95.45" y1="337.95" x2="95.45" y2="339.85" stroke="#222" stroke-width="0.8"/>
<line x1="112.50" y1="337.95" x2="112.50" y2="339.85" stroke="#222" stroke-width="0.8"/>
<line x1="129.55" y1="337.95" x2="129.55" y2="339.85" stroke="#222" stroke-width="0.8"/>
<line x1="163.65" y1="337.95" x2="163.65" y2="339.85" stroke="#222" stroke-width="0.8"/>
<line x1="180.70" y1="337.95" x2="180.70" y2="339.85" stroke="#222" stroke-width="0.8"/>
<line x1="197.75" y1="337.95" x2="197.75" y2="339.85" stroke="#222" stroke-width="0.8"/>
<line x1="231.85" y1="337.95" x2="231.85" y2="339.85" stroke="#222" stroke-width="0.8"/>
<line x1="248.90" y1="337.95" x2="248.90" y2="339.85" stroke="#222" stroke-width="0.8"/>
<line x1="265.95" y1="337.95" x2="265.95" y2="339.85" stroke="#222" stroke-width="0.8"/>
<line x1="78.40" y1="337.25" x2="78.40" y2="340.55" stroke="#222" stroke-width="1"/>
<text x="78.40" y="350.80" font-size="12.61" text-anchor="middle" textLength="7.57" lengthAdjust="spacingAndGlyphs" fill="#000">6</text>
<line x1="146.60" y1="337.25" x2="146.60" y2="340.55" stroke="#222" stroke-width="1"/>
<text x="146.60" y="350.80" font-size="12.61" text-anchor="middle" textLength="7.57" lengthAdjust="spacingAndGlyphs" fill="#000">8</text>
<line x1="214.80" y1="337.25" x2="214.80" y2="340.55" stroke="#222" stroke-width="1"/>
<text x="214.80" y="350.80" font-size="12.61" text-anchor="middle" textLength="15.14" lengthAdjust="spacingAndGlyphs" fill="#000">10</text>
<rect x="302.35" y="189.90" width="225.05" height="149.00" fill="none" stroke="#222" stroke-width="0.8"/>
<line x1="301.40" y1="339.00" x2="303.30" y2="339.00" stroke="#222" stroke-width="0.8"/>
<line x1="301.40" y1="331.20" x2="303.30" y2="331.20" stroke="#222" stroke-width="0.8"/>
<line x1="301.40" y1="315.60" x2="303.30" y2="315.60" stroke="#222" stroke-width="0.8"/>
<line x1="301.40" y1="307.80" x2="303.30" y2="307.80" stroke="#222" stroke-width="0.8"/>
<line x1="301.40" y1="300.00" x2="303.30" y2="300.00" stroke="#222" stroke-width="0.8"/>
<line x1="301.40" y1="292.20" x2="303.30" y2="292.20" stroke="#222" stroke-width="0.8"/>
<line x1="301.40" y1="276.60" x2="303.30" y2="276.60" stroke="#222" stroke-width="0.8"/>
<line x1="301.40" y1="268.80" x2="303.30" y2="268.80" stroke="#222" stroke-width="0.8"/>
<line x1="301.40" y1="261.00" x2="303.30" y2="261.00" stroke="#222" stroke-width="0.8"/>
<line x1="301.40" y1="253.20" x2="303.30" y2="253.20" stroke="#222" stroke-width="0.8"/>
<line x1="301.40" y1="237.60" x2="303.30" y2="237.60" stroke="#222" stroke-width="0.8"/>
<line x1="301.40" y1="229.80" x2="303.30" y2="229.80" stroke="#222" stroke-width="0.8"/>
<line x1="301.40" y1="222.00" x2="303.30" y2="222.00" stroke="#222" stroke-width="0.8"/>
<line x1="301.40" y1="214.20" x2="303.30" y2="214.20" stroke="#222" stroke-width="0.8"/>
<line x1="301.40" y1="198.60" x2="303.30" y2="198.60" stroke="#222" stroke-width="0.8"/>
<line x1="301.40" y1="190.80" x2="303.30" y2="190.80" stroke="#222" stroke-width="0.8"/>
<line x1="300.70" y1="206.40" x2="304.00" y2="206.40" stroke="#222" stroke-width="1"/>
<text x="299.75" y="210.70" font-size="12.61" text-anchor="end" textLength="25.11" lengthAdjust="spacingAndGlyphs" fill="#000">−10</text>
<line x1="300.70" y1="245.40" x2="304.00" y2="245.40" stroke="#222" stroke-width="1"/>
<text x="299.75" y="249.70" font-size="12.61" text-anchor="end" textLength="25.11" lengthAdjust="spacingAndGlyphs" fill="#000">−20</text>
<line x1="300.70" y1="284.40" x2="304.00" y2="284.40" stroke="#222" stroke-width="1"/>
<text x="299.75" y="288.70" font-size="12.61" text-anchor="end" textLength="25.11" lengthAdjust="spacingAndGlyphs" fill="#000">−30</text>
<line x1="300.70" y1="323.40" x2="304.00" y2="323.40" stroke="#222" stroke-width="1"/>
<text x="299.75" y="327.70" font-size="12.61" text-anchor="end" textLength="25.11" lengthAdjust="spacingAndGlyphs" fill="#000">−40</text>
<line x1="322.83" y1="337.95" x2="322.83" y2="339.85" stroke="#222" stroke-width="0.8"/>
<line x1="333.16" y1="337.95" x2="333.16" y2="339.85" stroke="#222" stroke-width="0.8"/>
<line x1="343.49" y1="337.95" x2="343.49" y2="339.85" stroke="#222" stroke-width="0.8"/>
<line x1="364.15" y1="337.95" x2="364.15" y2="339.85" stroke="#222" stroke-width="0.8"/>
<line x1="374.48" y1="337.95" x2="374.48" y2="339.85" stroke="#222" stroke-width="0.8"/>
<line x1="384.81" y1="337.95" x2="384.81" y2="339.85" stroke="#222" stroke-width="0.8"/>
<line x1="405.47" y1="337.95" x2="405.47" y2="339.85" stroke="#222" stroke-width="0.8"/>
<line x1="415.80" y1="337.95" x2="415.80" y2="339.85" stroke="#222" stroke-width="0.8"/>
<line x1="426.13" y1="337.95" x2="426.13" y2="339.85" stroke="#222" stroke-width="0.8"/>
<line x1="446.79" y1="337.95" x2="446.79" y2="339.85" stroke="#222" stroke-width="0.8"/>
<line x1="457.12" y1="337.95" x2="457.12" y2="339.85" stroke="#222" stroke-width="0.8"/>
<line x1="467.45" y1="337.95" x2="467.45" y2="339.85" stroke="#222" stroke-width="0.8"/>
<line x1="488.11" y1="337.95" x2="488.11" y2="339.85" stroke="#222" stroke-width="0.8"/>
<line x1="498.44" y1="337.95" x2="498.44" y2="339.85" stroke="#222" stroke-width="0.8"/>
<line x1="508.77" y1="337.95" x2="508.77" y2="339.85" stroke="#222" stroke-width="0.8"/>
<line x1="312.50" y1="337.25" x2="312.50" y2="340.55" stroke="#222" stroke-width="1"/>
<text x="312.50" y="350.80" font-size="12.61" text-anchor="middle" textLength="18.92" lengthAdjust="spacingAndGlyphs" fill="#000">0.0</text>
<line x1="353.82" y1="337.25" x2="353.82" y2="340.55" stroke="#222" stroke-width="1"/>
<text x="353.82" y="350.80" font-size="12.61" text-anchor="middle" textLength="18.92" lengthAdjust="spacingAndGlyphs" fill="#000">0.2</text>
<line x1="395.14" y1="337.25" x2="395.14" y2="340.55" stroke="#222" stroke-width="1"/>
<text x="395.14" y="350.80" font-size="12.61" text-anchor="middle" textLength="18.92" lengthAdjust="spacingAndGlyphs" fill="#000">0.4</text>
<line x1="436.46" y1="337.25" x2="436.46" y2="340.55" stroke="#222" stroke-width="1"/>
<text x="436.46" y="350.80" font-size="12.61" text-anchor="middle" textLength="18.92" lengthAdjust="spacingAndGlyphs" fill="#000">0.6</text>
<line x1="477.78" y1="337.25" x2="477.78" y2="340.55" stroke="#222" stroke-width="1"/>
<text x="477.78" y="350.80" font-size="12.61" text-anchor="middle" textLength="18.92" lengthAdjust="spacingAndGlyphs" fill="#000">0.8</text>
<line x1="519.10" y1="337.25" x2="519.10" y2="340.55" stroke="#222" stroke-width="1"/>
<text x="519.10" y="350.80" font-size="12.61" text-anchor="middle" textLength="18.92" lengthAdjust="spacingAndGlyphs" fill="#000">1.0</text>
<text x="12.80" y="264.40" font-size="12.46" text-anchor="middle" textLength="89.48" lengthAdjust="spacingAndGlyphs" fill="#000" transform="rotate(-90 12.8 264.40)">ΔE (meV/atom)</text>
<path d="M76.30,373.00 C76.57,374.50 77.40,378.83 77.90,382.00 C78.40,385.17 78.87,389.00 79.30,392.00 C79.73,395.00 80.10,397.50 80.50,400.00 C80.90,402.50 81.28,404.33 81.70,407.00 C82.12,409.67 82.55,413.00 83.00,416.00 C83.45,419.00 83.93,421.83 84.40,425.00 C84.87,428.17 84.98,431.38 85.80,435.00 C86.62,438.62 88.13,443.20 89.30,446.70 C90.47,450.20 91.43,453.28 92.80,456.00 C94.17,458.72 95.73,461.05 97.50,463.00 C99.27,464.95 101.45,466.72 103.40,467.70 C105.35,468.68 107.65,468.80 109.20,468.90 C110.75,469.00 111.57,468.58 112.70,468.30 C113.83,468.02 114.63,467.67 116.00,467.20 C117.37,466.73 119.12,466.28 120.90,465.50 C122.68,464.72 124.75,463.50 126.70,462.50 C128.65,461.50 130.65,460.48 132.60,459.50 C134.55,458.52 136.47,457.48 138.40,456.60 C140.33,455.72 142.27,454.92 144.20,454.20 C146.13,453.48 147.37,453.08 150.00,452.30 C152.63,451.52 156.67,450.35 160.00,449.50 C163.33,448.65 166.67,447.93 170.00,447.20 C173.33,446.47 176.67,445.75 180.00,445.10 C183.33,444.45 186.67,443.87 190.00,443.30 C193.33,442.73 196.67,442.18 200.00,441.70 C203.33,441.22 206.67,440.77 210.00,440.40 C213.33,440.03 216.67,439.78 220.00,439.50 C223.33,439.22 227.00,438.90 230.00,438.70 C233.00,438.50 235.40,438.43 238.00,438.30 C240.60,438.17 244.33,437.97 245.60,437.90" fill="none" stroke="#1f77b4" stroke-width="3.5" stroke-linecap="square" stroke-linejoin="round" clip-path="url(#cl2)"/>
<path d="M77.50,369.10 C77.67,370.42 78.15,374.17 78.50,377.00 C78.85,379.83 79.23,382.93 79.60,386.10 C79.97,389.27 80.32,392.52 80.70,396.00 C81.08,399.48 81.48,403.67 81.90,407.00 C82.32,410.33 82.72,413.00 83.20,416.00 C83.68,419.00 84.23,421.83 84.80,425.00 C85.37,428.17 85.73,431.38 86.60,435.00 C87.47,438.62 88.83,443.20 90.00,446.70 C91.17,450.20 92.22,453.20 93.60,456.00 C94.98,458.80 96.67,461.50 98.30,463.50 C99.93,465.50 101.58,467.02 103.40,468.00 C105.22,468.98 107.43,469.23 109.20,469.40 C110.97,469.57 112.53,469.23 114.00,469.00 C115.47,468.77 116.67,468.42 118.00,468.00 C119.33,467.58 120.55,467.27 122.00,466.50 C123.45,465.73 124.93,464.43 126.70,463.40 C128.47,462.37 130.65,461.30 132.60,460.30 C134.55,459.30 136.47,458.28 138.40,457.40 C140.33,456.52 142.27,455.73 144.20,455.00 C146.13,454.27 147.37,453.78 150.00,453.00 C152.63,452.22 156.67,451.13 160.00,450.30 C163.33,449.47 166.67,448.72 170.00,448.00 C173.33,447.28 176.67,446.63 180.00,446.00 C183.33,445.37 186.67,444.78 190.00,444.20 C193.33,443.62 196.67,442.98 200.00,442.50 C203.33,442.02 206.67,441.63 210.00,441.30 C213.33,440.97 216.67,440.77 220.00,440.50 C223.33,440.23 227.00,439.90 230.00,439.70 C233.00,439.50 235.42,439.42 238.00,439.30 C240.58,439.18 244.25,439.05 245.50,439.00" fill="none" stroke="#000" stroke-width="2.1" stroke-dasharray="13.4 3.4 2.1 3.4" stroke-linecap="butt" stroke-linejoin="round" clip-path="url(#cl2)"/>
<path d="M56.80,374.80 C56.95,375.67 57.40,378.12 57.70,380.00 C58.00,381.88 58.28,383.27 58.60,386.10 C58.92,388.93 59.25,393.05 59.60,397.00 C59.95,400.95 60.30,405.80 60.70,409.80 C61.10,413.80 61.72,418.47 62.00,421.00 C62.28,423.53 62.08,422.28 62.40,425.00 C62.72,427.72 63.27,432.93 63.90,437.30 C64.53,441.67 65.18,446.57 66.20,451.20 C67.22,455.83 68.47,460.73 70.00,465.10 C71.53,469.47 73.73,474.60 75.40,477.40 C77.07,480.20 78.57,480.65 80.00,481.90 C81.43,483.15 82.63,484.25 84.00,484.90 C85.37,485.55 86.78,485.75 88.20,485.80 C89.62,485.85 90.95,485.68 92.50,485.20 C94.05,484.72 95.68,483.97 97.50,482.90 C99.32,481.83 101.45,480.37 103.40,478.80 C105.35,477.23 107.27,475.15 109.20,473.50 C111.13,471.85 113.05,470.30 115.00,468.90 C116.95,467.50 118.95,466.27 120.90,465.10 C122.85,463.93 124.75,462.93 126.70,461.90 C128.65,460.87 130.65,459.88 132.60,458.90 C134.55,457.92 136.47,456.87 138.40,456.00 C140.33,455.13 142.27,454.40 144.20,453.70 C146.13,453.00 147.37,452.57 150.00,451.80 C152.63,451.03 156.67,449.92 160.00,449.10 C163.33,448.28 166.67,447.62 170.00,446.90 C173.33,446.18 176.67,445.45 180.00,444.80 C183.33,444.15 186.67,443.57 190.00,443.00 C193.33,442.43 196.67,441.88 200.00,441.40 C203.33,440.92 206.67,440.47 210.00,440.10 C213.33,439.73 216.92,439.43 220.00,439.20 C223.08,438.97 227.08,438.78 228.50,438.70" fill="none" stroke="#ff7f0e" stroke-width="3.5" stroke-linecap="square" stroke-linejoin="round" clip-path="url(#cl2)"/>
<path d="M57.50,370.10 C57.60,371.25 57.88,374.33 58.10,377.00 C58.32,379.67 58.52,382.77 58.80,386.10 C59.08,389.43 59.45,393.05 59.80,397.00 C60.15,400.95 60.50,405.80 60.90,409.80 C61.30,413.80 61.92,418.47 62.20,421.00 C62.48,423.53 62.28,422.28 62.60,425.00 C62.92,427.72 63.47,432.93 64.10,437.30 C64.73,441.67 65.38,446.57 66.40,451.20 C67.42,455.83 68.67,460.70 70.20,465.10 C71.73,469.50 73.97,474.68 75.60,477.60 C77.23,480.52 78.60,481.23 80.00,482.60 C81.40,483.97 82.63,485.10 84.00,485.80 C85.37,486.50 86.78,486.72 88.20,486.80 C89.62,486.88 90.95,486.75 92.50,486.30 C94.05,485.85 95.68,485.15 97.50,484.10 C99.32,483.05 101.45,481.53 103.40,480.00 C105.35,478.47 107.27,476.52 109.20,474.90 C111.13,473.28 113.05,471.70 115.00,470.30 C116.95,468.90 118.95,467.68 120.90,466.50 C122.85,465.32 124.75,464.25 126.70,463.20 C128.65,462.15 130.65,461.18 132.60,460.20 C134.55,459.22 136.47,458.17 138.40,457.30 C140.33,456.43 142.27,455.72 144.20,455.00 C146.13,454.28 147.37,453.78 150.00,453.00 C152.63,452.22 156.67,451.13 160.00,450.30 C163.33,449.47 166.67,448.72 170.00,448.00 C173.33,447.28 176.67,446.63 180.00,446.00 C183.33,445.37 186.67,444.78 190.00,444.20 C193.33,443.62 196.67,442.98 200.00,442.50 C203.33,442.02 206.67,441.67 210.00,441.30 C213.33,440.93 216.92,440.57 220.00,440.30 C223.08,440.03 227.08,439.80 228.50,439.70" fill="none" stroke="#000" stroke-width="2.1" stroke-dasharray="13.4 3.4 2.1 3.4" stroke-linecap="butt" stroke-linejoin="round" clip-path="url(#cl2)"/>
<path d="M312.50,375.60 C313.23,375.78 315.35,375.55 316.90,376.70 C318.45,377.85 320.15,379.88 321.80,382.50 C323.45,385.12 325.15,388.83 326.80,392.40 C328.45,395.97 330.05,399.78 331.70,403.90 C333.35,408.02 335.05,412.42 336.70,417.10 C338.35,421.78 339.40,426.27 341.60,432.00 C343.80,437.73 347.42,445.77 349.90,451.50 C352.38,457.23 354.45,462.00 356.50,466.40 C358.55,470.80 360.28,474.60 362.20,477.90 C364.12,481.20 365.93,484.13 368.00,486.20 C370.07,488.27 372.40,489.35 374.60,490.30 C376.80,491.25 378.72,491.90 381.20,491.90 C383.68,491.90 386.75,491.25 389.50,490.30 C392.25,489.35 394.95,487.22 397.70,486.20 C400.45,485.18 403.12,484.50 406.00,484.20 C408.88,483.90 412.12,483.93 415.00,484.40 C417.88,484.87 420.55,485.88 423.30,487.00 C426.05,488.12 428.75,489.82 431.50,491.10 C434.25,492.38 437.05,493.73 439.80,494.70 C442.55,495.67 445.25,496.95 448.00,496.90 C450.75,496.85 453.55,495.97 456.30,494.40 C459.05,492.83 462.03,490.52 464.50,487.50 C466.97,484.48 468.90,480.92 471.10,476.30 C473.30,471.68 475.77,464.48 477.70,459.80 C479.63,455.12 480.92,452.33 482.70,448.20 C484.48,444.07 486.75,439.90 488.40,435.00 C490.05,430.10 490.80,424.25 492.60,418.80 C494.40,413.35 497.00,407.53 499.20,402.30 C501.40,397.07 503.60,391.53 505.80,387.40 C508.00,383.27 510.57,379.45 512.40,377.50 C514.23,375.55 516.07,376.02 516.80,375.73" fill="none" stroke="#1f77b4" stroke-width="3.5" stroke-linecap="square" stroke-linejoin="round" clip-path="url(#cr2)"/>
<path d="M312.50,367.60 C313.50,368.15 316.67,369.25 318.50,370.90 C320.33,372.55 321.85,374.75 323.50,377.50 C325.15,380.25 326.75,383.55 328.40,387.40 C330.05,391.25 331.75,395.92 333.40,400.60 C335.05,405.28 336.52,410.00 338.30,415.50 C340.08,421.00 341.90,426.77 344.10,433.60 C346.30,440.43 349.17,450.22 351.50,456.50 C353.83,462.78 355.90,466.63 358.10,471.30 C360.30,475.97 362.50,480.92 364.70,484.50 C366.90,488.08 368.82,490.60 371.30,492.80 C373.78,495.00 376.85,497.02 379.60,497.70 C382.35,498.38 385.05,497.72 387.80,496.90 C390.55,496.08 393.07,494.18 396.10,492.80 C399.13,491.42 402.85,489.52 406.00,488.60 C409.15,487.68 412.12,487.15 415.00,487.30 C417.88,487.45 420.55,488.45 423.30,489.50 C426.05,490.55 428.75,492.10 431.50,493.60 C434.25,495.10 437.05,497.13 439.80,498.50 C442.55,499.87 445.25,501.52 448.00,501.80 C450.75,502.08 453.82,501.57 456.30,500.20 C458.78,498.83 460.43,497.18 462.90,493.60 C465.37,490.02 468.63,484.07 471.10,478.70 C473.57,473.33 475.77,466.48 477.70,461.40 C479.63,456.32 481.18,452.60 482.70,448.20 C484.22,443.80 484.88,441.28 486.80,435.00 C488.72,428.72 491.87,417.88 494.20,410.50 C496.53,403.12 498.60,396.20 500.80,390.70 C503.00,385.20 505.20,381.07 507.40,377.50 C509.60,373.93 512.43,370.82 514.00,369.30 C515.57,367.78 516.33,368.52 516.80,368.37" fill="none" stroke="#000" stroke-width="2.1" stroke-dasharray="13.4 3.4 2.1 3.4" stroke-linecap="butt" stroke-linejoin="round" clip-path="url(#cr2)"/>
<path d="M312.50,499.20 C313.50,498.95 316.12,498.92 318.50,497.70 C320.88,496.48 324.05,493.97 326.80,491.90 C329.55,489.83 332.25,487.08 335.00,485.30 C337.75,483.52 340.55,482.15 343.30,481.20 C346.05,480.25 348.75,479.87 351.50,479.60 C354.25,479.33 357.05,479.38 359.80,479.60 C362.55,479.82 365.25,480.42 368.00,480.90 C370.75,481.38 373.55,482.17 376.30,482.50 C379.05,482.83 382.03,483.25 384.50,482.90 C386.97,482.55 388.90,482.05 391.10,480.40 C393.30,478.75 395.22,476.43 397.70,473.00 C400.18,469.57 403.62,464.05 406.00,459.80 C408.38,455.55 409.95,451.72 412.00,447.50 C414.05,443.28 416.15,439.28 418.30,434.50 C420.45,429.72 422.70,424.17 424.90,418.80 C427.10,413.43 429.02,407.53 431.50,402.30 C433.98,397.07 437.18,391.03 439.80,387.40 C442.42,383.77 444.73,381.18 447.20,380.50 C449.67,379.82 452.27,381.32 454.60,383.30 C456.93,385.28 459.00,388.42 461.20,392.40 C463.40,396.38 465.83,402.27 467.80,407.20 C469.77,412.13 471.35,417.18 473.00,422.00 C474.65,426.82 476.08,431.45 477.70,436.10 C479.32,440.75 481.05,445.40 482.70,449.90 C484.35,454.40 485.68,458.43 487.60,463.10 C489.52,467.77 491.72,473.23 494.20,477.90 C496.68,482.57 499.75,487.93 502.50,491.10 C505.25,494.27 508.32,495.55 510.70,496.90 C513.08,498.25 515.78,498.83 516.80,499.21" fill="none" stroke="#ff7f0e" stroke-width="3.5" stroke-linecap="square" stroke-linejoin="round" clip-path="url(#cr2)"/>
<path d="M312.50,502.60 C313.50,502.33 316.12,502.08 318.50,501.00 C320.88,499.92 324.05,498.02 326.80,496.10 C329.55,494.18 332.25,491.48 335.00,489.50 C337.75,487.52 340.55,485.45 343.30,484.20 C346.05,482.95 348.75,482.22 351.50,482.00 C354.25,481.78 357.05,482.48 359.80,482.90 C362.55,483.32 365.25,483.95 368.00,484.50 C370.75,485.05 373.55,485.98 376.30,486.20 C379.05,486.42 381.75,486.50 384.50,485.80 C387.25,485.10 390.05,484.55 392.80,482.00 C395.55,479.45 398.53,474.48 401.00,470.50 C403.47,466.52 405.77,462.02 407.60,458.10 C409.43,454.18 410.22,451.27 412.00,447.00 C413.78,442.73 416.15,437.75 418.30,432.50 C420.45,427.25 422.70,421.08 424.90,415.50 C427.10,409.92 429.02,404.10 431.50,399.00 C433.98,393.90 436.92,388.20 439.80,384.90 C442.68,381.60 445.78,379.33 448.80,379.20 C451.82,379.07 455.37,381.47 457.90,384.10 C460.43,386.73 461.98,390.68 464.00,395.00 C466.02,399.32 468.25,405.33 470.00,410.00 C471.75,414.67 473.08,418.83 474.50,423.00 C475.92,427.17 476.87,429.97 478.50,435.00 C480.13,440.03 482.23,447.15 484.30,453.20 C486.37,459.25 488.42,465.53 490.90,471.30 C493.38,477.07 496.45,483.53 499.20,487.80 C501.95,492.07 504.65,494.57 507.40,496.90 C510.15,499.23 514.13,500.95 515.70,501.80 C517.27,502.65 516.62,501.99 516.80,502.03" fill="none" stroke="#000" stroke-width="2.1" stroke-dasharray="13.4 3.4 2.1 3.4" stroke-linecap="butt" stroke-linejoin="round" clip-path="url(#cr2)"/>
<rect x="44.50" y="360.90" width="225.00" height="149.00" fill="none" stroke="#222" stroke-width="0.8"/>
<line x1="43.55" y1="503.69" x2="45.45" y2="503.69" stroke="#222" stroke-width="0.8"/>
<line x1="43.55" y1="497.48" x2="45.45" y2="497.48" stroke="#222" stroke-width="0.8"/>
<line x1="43.55" y1="491.27" x2="45.45" y2="491.27" stroke="#222" stroke-width="0.8"/>
<line x1="43.55" y1="478.86" x2="45.45" y2="478.86" stroke="#222" stroke-width="0.8"/>
<line x1="43.55" y1="472.65" x2="45.45" y2="472.65" stroke="#222" stroke-width="0.8"/>
<line x1="43.55" y1="466.44" x2="45.45" y2="466.44" stroke="#222" stroke-width="0.8"/>
<line x1="43.55" y1="454.02" x2="45.45" y2="454.02" stroke="#222" stroke-width="0.8"/>
<line x1="43.55" y1="447.82" x2="45.45" y2="447.82" stroke="#222" stroke-width="0.8"/>
<line x1="43.55" y1="441.61" x2="45.45" y2="441.61" stroke="#222" stroke-width="0.8"/>
<line x1="43.55" y1="429.19" x2="45.45" y2="429.19" stroke="#222" stroke-width="0.8"/>
<line x1="43.55" y1="422.98" x2="45.45" y2="422.98" stroke="#222" stroke-width="0.8"/>
<line x1="43.55" y1="416.77" x2="45.45" y2="416.77" stroke="#222" stroke-width="0.8"/>
<line x1="43.55" y1="404.36" x2="45.45" y2="404.36" stroke="#222" stroke-width="0.8"/>
<line x1="43.55" y1="398.15" x2="45.45" y2="398.15" stroke="#222" stroke-width="0.8"/>
<line x1="43.55" y1="391.94" x2="45.45" y2="391.94" stroke="#222" stroke-width="0.8"/>
<line x1="43.55" y1="379.52" x2="45.45" y2="379.52" stroke="#222" stroke-width="0.8"/>
<line x1="43.55" y1="373.32" x2="45.45" y2="373.32" stroke="#222" stroke-width="0.8"/>
<line x1="43.55" y1="367.11" x2="45.45" y2="367.11" stroke="#222" stroke-width="0.8"/>
<line x1="42.85" y1="360.90" x2="46.15" y2="360.90" stroke="#222" stroke-width="1"/>
<text x="41.90" y="365.20" font-size="12.61" text-anchor="end" textLength="15.14" lengthAdjust="spacingAndGlyphs" fill="#000">60</text>
<line x1="42.85" y1="385.73" x2="46.15" y2="385.73" stroke="#222" stroke-width="1"/>
<text x="41.90" y="390.03" font-size="12.61" text-anchor="end" textLength="15.14" lengthAdjust="spacingAndGlyphs" fill="#000">40</text>
<line x1="42.85" y1="410.57" x2="46.15" y2="410.57" stroke="#222" stroke-width="1"/>
<text x="41.90" y="414.87" font-size="12.61" text-anchor="end" textLength="15.14" lengthAdjust="spacingAndGlyphs" fill="#000">20</text>
<line x1="42.85" y1="435.40" x2="46.15" y2="435.40" stroke="#222" stroke-width="1"/>
<text x="41.90" y="439.70" font-size="12.61" text-anchor="end" textLength="7.57" lengthAdjust="spacingAndGlyphs" fill="#000">0</text>
<line x1="42.85" y1="460.23" x2="46.15" y2="460.23" stroke="#222" stroke-width="1"/>
<text x="41.90" y="464.53" font-size="12.61" text-anchor="end" textLength="25.11" lengthAdjust="spacingAndGlyphs" fill="#000">−20</text>
<line x1="42.85" y1="485.07" x2="46.15" y2="485.07" stroke="#222" stroke-width="1"/>
<text x="41.90" y="489.37" font-size="12.61" text-anchor="end" textLength="25.11" lengthAdjust="spacingAndGlyphs" fill="#000">−40</text>
<line x1="42.85" y1="509.90" x2="46.15" y2="509.90" stroke="#222" stroke-width="1"/>
<text x="41.90" y="514.20" font-size="12.61" text-anchor="end" textLength="25.11" lengthAdjust="spacingAndGlyphs" fill="#000">−60</text>
<line x1="61.35" y1="508.95" x2="61.35" y2="510.85" stroke="#222" stroke-width="0.8"/>
<line x1="95.45" y1="508.95" x2="95.45" y2="510.85" stroke="#222" stroke-width="0.8"/>
<line x1="112.50" y1="508.95" x2="112.50" y2="510.85" stroke="#222" stroke-width="0.8"/>
<line x1="129.55" y1="508.95" x2="129.55" y2="510.85" stroke="#222" stroke-width="0.8"/>
<line x1="163.65" y1="508.95" x2="163.65" y2="510.85" stroke="#222" stroke-width="0.8"/>
<line x1="180.70" y1="508.95" x2="180.70" y2="510.85" stroke="#222" stroke-width="0.8"/>
<line x1="197.75" y1="508.95" x2="197.75" y2="510.85" stroke="#222" stroke-width="0.8"/>
<line x1="231.85" y1="508.95" x2="231.85" y2="510.85" stroke="#222" stroke-width="0.8"/>
<line x1="248.90" y1="508.95" x2="248.90" y2="510.85" stroke="#222" stroke-width="0.8"/>
<line x1="265.95" y1="508.95" x2="265.95" y2="510.85" stroke="#222" stroke-width="0.8"/>
<line x1="78.40" y1="508.25" x2="78.40" y2="511.55" stroke="#222" stroke-width="1"/>
<text x="78.40" y="521.80" font-size="12.61" text-anchor="middle" textLength="7.57" lengthAdjust="spacingAndGlyphs" fill="#000">6</text>
<line x1="146.60" y1="508.25" x2="146.60" y2="511.55" stroke="#222" stroke-width="1"/>
<text x="146.60" y="521.80" font-size="12.61" text-anchor="middle" textLength="7.57" lengthAdjust="spacingAndGlyphs" fill="#000">8</text>
<line x1="214.80" y1="508.25" x2="214.80" y2="511.55" stroke="#222" stroke-width="1"/>
<text x="214.80" y="521.80" font-size="12.61" text-anchor="middle" textLength="15.14" lengthAdjust="spacingAndGlyphs" fill="#000">10</text>
<rect x="302.35" y="360.90" width="225.05" height="149.00" fill="none" stroke="#222" stroke-width="0.8"/>
<line x1="301.40" y1="508.30" x2="303.30" y2="508.30" stroke="#222" stroke-width="0.8"/>
<line x1="301.40" y1="488.70" x2="303.30" y2="488.70" stroke="#222" stroke-width="0.8"/>
<line x1="301.40" y1="478.90" x2="303.30" y2="478.90" stroke="#222" stroke-width="0.8"/>
<line x1="301.40" y1="469.10" x2="303.30" y2="469.10" stroke="#222" stroke-width="0.8"/>
<line x1="301.40" y1="459.30" x2="303.30" y2="459.30" stroke="#222" stroke-width="0.8"/>
<line x1="301.40" y1="439.70" x2="303.30" y2="439.70" stroke="#222" stroke-width="0.8"/>
<line x1="301.40" y1="429.90" x2="303.30" y2="429.90" stroke="#222" stroke-width="0.8"/>
<line x1="301.40" y1="420.10" x2="303.30" y2="420.10" stroke="#222" stroke-width="0.8"/>
<line x1="301.40" y1="410.30" x2="303.30" y2="410.30" stroke="#222" stroke-width="0.8"/>
<line x1="301.40" y1="390.70" x2="303.30" y2="390.70" stroke="#222" stroke-width="0.8"/>
<line x1="301.40" y1="380.90" x2="303.30" y2="380.90" stroke="#222" stroke-width="0.8"/>
<line x1="301.40" y1="371.10" x2="303.30" y2="371.10" stroke="#222" stroke-width="0.8"/>
<line x1="301.40" y1="361.30" x2="303.30" y2="361.30" stroke="#222" stroke-width="0.8"/>
<line x1="300.70" y1="400.50" x2="304.00" y2="400.50" stroke="#222" stroke-width="1"/>
<text x="299.75" y="404.80" font-size="12.61" text-anchor="end" textLength="25.11" lengthAdjust="spacingAndGlyphs" fill="#000">−20</text>
<line x1="300.70" y1="449.50" x2="304.00" y2="449.50" stroke="#222" stroke-width="1"/>
<text x="299.75" y="453.80" font-size="12.61" text-anchor="end" textLength="25.11" lengthAdjust="spacingAndGlyphs" fill="#000">−30</text>
<line x1="300.70" y1="498.50" x2="304.00" y2="498.50" stroke="#222" stroke-width="1"/>
<text x="299.75" y="502.80" font-size="12.61" text-anchor="end" textLength="25.11" lengthAdjust="spacingAndGlyphs" fill="#000">−40</text>
<line x1="322.83" y1="508.95" x2="322.83" y2="510.85" stroke="#222" stroke-width="0.8"/>
<line x1="333.16" y1="508.95" x2="333.16" y2="510.85" stroke="#222" stroke-width="0.8"/>
<line x1="343.49" y1="508.95" x2="343.49" y2="510.85" stroke="#222" stroke-width="0.8"/>
<line x1="364.15" y1="508.95" x2="364.15" y2="510.85" stroke="#222" stroke-width="0.8"/>
<line x1="374.48" y1="508.95" x2="374.48" y2="510.85" stroke="#222" stroke-width="0.8"/>
<line x1="384.81" y1="508.95" x2="384.81" y2="510.85" stroke="#222" stroke-width="0.8"/>
<line x1="405.47" y1="508.95" x2="405.47" y2="510.85" stroke="#222" stroke-width="0.8"/>
<line x1="415.80" y1="508.95" x2="415.80" y2="510.85" stroke="#222" stroke-width="0.8"/>
<line x1="426.13" y1="508.95" x2="426.13" y2="510.85" stroke="#222" stroke-width="0.8"/>
<line x1="446.79" y1="508.95" x2="446.79" y2="510.85" stroke="#222" stroke-width="0.8"/>
<line x1="457.12" y1="508.95" x2="457.12" y2="510.85" stroke="#222" stroke-width="0.8"/>
<line x1="467.45" y1="508.95" x2="467.45" y2="510.85" stroke="#222" stroke-width="0.8"/>
<line x1="488.11" y1="508.95" x2="488.11" y2="510.85" stroke="#222" stroke-width="0.8"/>
<line x1="498.44" y1="508.95" x2="498.44" y2="510.85" stroke="#222" stroke-width="0.8"/>
<line x1="508.77" y1="508.95" x2="508.77" y2="510.85" stroke="#222" stroke-width="0.8"/>
<line x1="312.50" y1="508.25" x2="312.50" y2="511.55" stroke="#222" stroke-width="1"/>
<text x="312.50" y="521.80" font-size="12.61" text-anchor="middle" textLength="18.92" lengthAdjust="spacingAndGlyphs" fill="#000">0.0</text>
<line x1="353.82" y1="508.25" x2="353.82" y2="511.55" stroke="#222" stroke-width="1"/>
<text x="353.82" y="521.80" font-size="12.61" text-anchor="middle" textLength="18.92" lengthAdjust="spacingAndGlyphs" fill="#000">0.2</text>
<line x1="395.14" y1="508.25" x2="395.14" y2="511.55" stroke="#222" stroke-width="1"/>
<text x="395.14" y="521.80" font-size="12.61" text-anchor="middle" textLength="18.92" lengthAdjust="spacingAndGlyphs" fill="#000">0.4</text>
<line x1="436.46" y1="508.25" x2="436.46" y2="511.55" stroke="#222" stroke-width="1"/>
<text x="436.46" y="521.80" font-size="12.61" text-anchor="middle" textLength="18.92" lengthAdjust="spacingAndGlyphs" fill="#000">0.6</text>
<line x1="477.78" y1="508.25" x2="477.78" y2="511.55" stroke="#222" stroke-width="1"/>
<text x="477.78" y="521.80" font-size="12.61" text-anchor="middle" textLength="18.92" lengthAdjust="spacingAndGlyphs" fill="#000">0.8</text>
<line x1="519.10" y1="508.25" x2="519.10" y2="511.55" stroke="#222" stroke-width="1"/>
<text x="519.10" y="521.80" font-size="12.61" text-anchor="middle" textLength="18.92" lengthAdjust="spacingAndGlyphs" fill="#000">1.0</text>
<text x="12.80" y="435.40" font-size="12.46" text-anchor="middle" textLength="89.48" lengthAdjust="spacingAndGlyphs" fill="#000" transform="rotate(-90 12.8 435.40)">ΔE (meV/atom)</text>
<text x="-1.46" y="16.10" font-size="20.71" text-anchor="start" textLength="28.56" lengthAdjust="spacingAndGlyphs" fill="#000" style="stroke-width:0">(a)</text>
<text x="271.14" y="14.10" font-size="20.71" text-anchor="start" textLength="29.01" lengthAdjust="spacingAndGlyphs" fill="#000" style="stroke-width:0">(b)</text>
<text x="-1.06" y="190.30" font-size="20.71" text-anchor="start" textLength="27.27" lengthAdjust="spacingAndGlyphs" fill="#000" style="stroke-width:0">(c)</text>
<text x="268.14" y="188.70" font-size="20.71" text-anchor="start" textLength="29.01" lengthAdjust="spacingAndGlyphs" fill="#000" style="stroke-width:0">(d)</text>
<text x="-0.76" y="358.90" font-size="20.71" text-anchor="start" textLength="28.61" lengthAdjust="spacingAndGlyphs" fill="#000" style="stroke-width:0">(e)</text>
<text x="270.14" y="353.10" font-size="20.71" text-anchor="start" textLength="23.21" lengthAdjust="spacingAndGlyphs" fill="#000" style="stroke-width:0">(f)</text>
<text x="139.3" y="535.5" font-size="12.15" textLength="6.6" lengthAdjust="spacingAndGlyphs" fill="#000">d</text>
<text x="147.0" y="537.6" font-size="8.50" font-style="italic" fill="#000">M</text>
<text x="158.0" y="535.4" font-size="12.51" fill="#000">(<tspan font-style="italic">Å</tspan>)</text>
<text x="416.5" y="534.2" font-size="12.74" font-style="italic" text-anchor="middle" fill="#000">δ</text>
<line x1="96.6" y1="34.3" x2="114.6" y2="34.3" stroke="#1f77b4" stroke-width="3.5" stroke-linecap="square"/>
<line x1="97.1" y1="51.3" x2="114.6" y2="51.3" stroke="#000" stroke-width="2.1" stroke-dasharray="13.9 3.2 2.1 3.4"/>
<line x1="183.6" y1="34.3" x2="201.6" y2="34.3" stroke="#ff7f0e" stroke-width="3.5" stroke-linecap="square"/>
<line x1="184.1" y1="51.3" x2="201.6" y2="51.3" stroke="#000" stroke-width="2.1" stroke-dasharray="13.9 3.2 2.1 3.4"/>
<text x="123.60" y="38.10" font-size="12.56" text-anchor="start" textLength="48.62" lengthAdjust="spacingAndGlyphs" fill="#000">NNP, AA</text>
<text x="123.60" y="55.20" font-size="12.56" text-anchor="start" textLength="46.93" lengthAdjust="spacingAndGlyphs" fill="#000">DFT, AA</text>
<text x="210.60" y="38.10" font-size="12.56" text-anchor="start" textLength="48.64" lengthAdjust="spacingAndGlyphs" fill="#000">NNP, AB</text>
<text x="210.60" y="55.20" font-size="12.56" text-anchor="start" textLength="46.95" lengthAdjust="spacingAndGlyphs" fill="#000">DFT, AB</text>
<circle cx="532.3" cy="13.4" r="5.7" fill="#ffdc00"/>
<circle cx="567.6" cy="14.0" r="5.6" fill="#00df00"/>
<circle cx="610.3" cy="14.2" r="5.6" fill="#a07700"/>
<circle cx="647.9" cy="13.8" r="6.6" fill="#9000b0"/>
<text x="541.45" y="20.30" font-size="20.50" text-anchor="start" textLength="13.01" lengthAdjust="spacingAndGlyphs" fill="#000">S</text>
<text x="574.35" y="20.30" font-size="20.50" text-anchor="start" textLength="25.62" lengthAdjust="spacingAndGlyphs" fill="#000">Se</text>
<text x="615.20" y="20.10" font-size="20.50" text-anchor="start" textLength="21.63" lengthAdjust="spacingAndGlyphs" fill="#000">Te</text>
<text x="655.29" y="19.90" font-size="20.50" text-anchor="start" textLength="30.23" lengthAdjust="spacingAndGlyphs" fill="#000">Mo</text>
<line x1="557.33" y1="75.17" x2="561.62" y2="71.03" stroke="#000" stroke-width="3.7" stroke-linecap="round"/>
<line x1="557.33" y1="86.55" x2="561.62" y2="91.25" stroke="#000" stroke-width="3.7" stroke-linecap="round"/>
<line x1="572.68" y1="71.03" x2="576.97" y2="75.17" stroke="#000" stroke-width="3.7" stroke-linecap="round"/>
<line x1="572.68" y1="91.25" x2="576.97" y2="86.55" stroke="#000" stroke-width="3.7" stroke-linecap="round"/>
<line x1="587.92" y1="75.17" x2="592.13" y2="71.03" stroke="#000" stroke-width="3.7" stroke-linecap="round"/>
<line x1="587.92" y1="86.55" x2="592.13" y2="91.25" stroke="#000" stroke-width="3.7" stroke-linecap="round"/>
<circle cx="567.15" cy="65.70" r="5.25" fill="#ffdc00"/>
<circle cx="567.15" cy="97.30" r="5.25" fill="#ffdc00"/>
<circle cx="597.55" cy="65.70" r="5.25" fill="#ffdc00"/>
<circle cx="597.55" cy="97.30" r="5.25" fill="#ffdc00"/>
<circle cx="551.80" cy="80.50" r="6.3" fill="#9000b0"/>
<circle cx="582.50" cy="80.50" r="6.3" fill="#9000b0"/>
<line x1="560.03" y1="130.17" x2="564.32" y2="126.03" stroke="#000" stroke-width="3.7" stroke-linecap="round"/>
<line x1="560.03" y1="141.55" x2="564.32" y2="146.25" stroke="#000" stroke-width="3.7" stroke-linecap="round"/>
<line x1="575.38" y1="126.03" x2="579.67" y2="130.17" stroke="#000" stroke-width="3.7" stroke-linecap="round"/>
<line x1="575.38" y1="146.25" x2="579.67" y2="141.55" stroke="#000" stroke-width="3.7" stroke-linecap="round"/>
<line x1="590.62" y1="130.17" x2="594.83" y2="126.03" stroke="#000" stroke-width="3.7" stroke-linecap="round"/>
<line x1="590.62" y1="141.55" x2="594.83" y2="146.25" stroke="#000" stroke-width="3.7" stroke-linecap="round"/>
<circle cx="569.85" cy="120.70" r="5.25" fill="#04ff08"/>
<circle cx="569.85" cy="152.30" r="5.25" fill="#04ff08"/>
<circle cx="600.25" cy="120.70" r="5.25" fill="#04ff08"/>
<circle cx="600.25" cy="152.30" r="5.25" fill="#04ff08"/>
<circle cx="554.50" cy="135.50" r="6.3" fill="#9000b0"/>
<circle cx="585.20" cy="135.50" r="6.3" fill="#9000b0"/>
<line x1="561.23" y1="231.87" x2="565.52" y2="227.73" stroke="#000" stroke-width="3.7" stroke-linecap="round"/>
<line x1="561.23" y1="243.25" x2="565.52" y2="247.95" stroke="#000" stroke-width="3.7" stroke-linecap="round"/>
<line x1="576.58" y1="227.73" x2="580.87" y2="231.87" stroke="#000" stroke-width="3.7" stroke-linecap="round"/>
<line x1="576.58" y1="247.95" x2="580.87" y2="243.25" stroke="#000" stroke-width="3.7" stroke-linecap="round"/>
<line x1="591.82" y1="231.87" x2="596.03" y2="227.73" stroke="#000" stroke-width="3.7" stroke-linecap="round"/>
<line x1="591.82" y1="243.25" x2="596.03" y2="247.95" stroke="#000" stroke-width="3.7" stroke-linecap="round"/>
<circle cx="571.05" cy="222.40" r="5.25" fill="#ffdc00"/>
<circle cx="571.05" cy="254.00" r="5.25" fill="#ffdc00"/>
<circle cx="601.45" cy="222.40" r="5.25" fill="#ffdc00"/>
<circle cx="601.45" cy="254.00" r="5.25" fill="#ffdc00"/>
<circle cx="555.70" cy="237.20" r="6.3" fill="#9000b0"/>
<circle cx="586.40" cy="237.20" r="6.3" fill="#9000b0"/>
<line x1="561.30" y1="287.14" x2="565.19" y2="283.20" stroke="#000" stroke-width="3.7" stroke-linecap="round"/>
<line x1="561.30" y1="297.95" x2="565.19" y2="302.41" stroke="#000" stroke-width="3.7" stroke-linecap="round"/>
<line x1="575.19" y1="283.20" x2="579.08" y2="287.14" stroke="#000" stroke-width="3.7" stroke-linecap="round"/>
<line x1="575.19" y1="302.41" x2="579.08" y2="297.95" stroke="#000" stroke-width="3.7" stroke-linecap="round"/>
<line x1="588.98" y1="287.14" x2="592.78" y2="283.20" stroke="#000" stroke-width="3.7" stroke-linecap="round"/>
<line x1="588.98" y1="297.95" x2="592.78" y2="302.41" stroke="#000" stroke-width="3.7" stroke-linecap="round"/>
<circle cx="570.19" cy="278.14" r="5.0" fill="#a07700"/>
<circle cx="570.19" cy="308.16" r="5.0" fill="#a07700"/>
<circle cx="597.68" cy="278.14" r="5.0" fill="#a07700"/>
<circle cx="597.68" cy="308.16" r="5.0" fill="#a07700"/>
<circle cx="556.30" cy="292.20" r="5.8" fill="#9000b0"/>
<circle cx="584.08" cy="292.20" r="5.8" fill="#9000b0"/>
<line x1="562.73" y1="395.17" x2="567.02" y2="391.03" stroke="#000" stroke-width="3.7" stroke-linecap="round"/>
<line x1="562.73" y1="406.55" x2="567.02" y2="411.25" stroke="#000" stroke-width="3.7" stroke-linecap="round"/>
<line x1="578.08" y1="391.03" x2="582.37" y2="395.17" stroke="#000" stroke-width="3.7" stroke-linecap="round"/>
<line x1="578.08" y1="411.25" x2="582.37" y2="406.55" stroke="#000" stroke-width="3.7" stroke-linecap="round"/>
<line x1="593.32" y1="395.17" x2="597.53" y2="391.03" stroke="#000" stroke-width="3.7" stroke-linecap="round"/>
<line x1="593.32" y1="406.55" x2="597.53" y2="411.25" stroke="#000" stroke-width="3.7" stroke-linecap="round"/>
<circle cx="572.55" cy="385.70" r="5.25" fill="#04ff08"/>
<circle cx="572.55" cy="417.30" r="5.25" fill="#04ff08"/>
<circle cx="602.95" cy="385.70" r="5.25" fill="#04ff08"/>
<circle cx="602.95" cy="417.30" r="5.25" fill="#04ff08"/>
<circle cx="557.20" cy="400.50" r="6.3" fill="#9000b0"/>
<circle cx="587.90" cy="400.50" r="6.3" fill="#9000b0"/>
<line x1="562.03" y1="451.17" x2="566.32" y2="447.03" stroke="#000" stroke-width="3.7" stroke-linecap="round"/>
<line x1="562.03" y1="462.55" x2="566.32" y2="467.25" stroke="#000" stroke-width="3.7" stroke-linecap="round"/>
<line x1="577.38" y1="447.03" x2="581.67" y2="451.17" stroke="#000" stroke-width="3.7" stroke-linecap="round"/>
<line x1="577.38" y1="467.25" x2="581.67" y2="462.55" stroke="#000" stroke-width="3.7" stroke-linecap="round"/>
<line x1="592.62" y1="451.17" x2="596.83" y2="447.03" stroke="#000" stroke-width="3.7" stroke-linecap="round"/>
<line x1="592.62" y1="462.55" x2="596.83" y2="467.25" stroke="#000" stroke-width="3.7" stroke-linecap="round"/>
<circle cx="571.85" cy="441.70" r="5.25" fill="#a07700"/>
<circle cx="571.85" cy="473.30" r="5.25" fill="#a07700"/>
<circle cx="602.25" cy="441.70" r="5.25" fill="#a07700"/>
<circle cx="602.25" cy="473.30" r="5.25" fill="#a07700"/>
<circle cx="556.50" cy="456.50" r="6.3" fill="#9000b0"/>
<circle cx="587.20" cy="456.50" r="6.3" fill="#9000b0"/>
<text x="617.09" y="84.60" font-size="20.60" textLength="42.76" lengthAdjust="spacingAndGlyphs" fill="#000">MoS</text>
<text x="659.90" y="88.70" font-size="14.50" textLength="7.81" lengthAdjust="spacingAndGlyphs" fill="#000">2</text>
<text x="616.46" y="142.60" font-size="20.60" textLength="55.28" lengthAdjust="spacingAndGlyphs" fill="#000">MoSe</text>
<text x="671.50" y="146.80" font-size="14.50" textLength="7.81" lengthAdjust="spacingAndGlyphs" fill="#000">2</text>
<text x="620.63" y="244.30" font-size="20.60" textLength="41.80" lengthAdjust="spacingAndGlyphs" fill="#000">MoS</text>
<text x="663.20" y="248.70" font-size="14.50" textLength="7.81" lengthAdjust="spacingAndGlyphs" fill="#000">2</text>
<text x="620.17" y="302.30" font-size="20.60" textLength="50.92" lengthAdjust="spacingAndGlyphs" fill="#000">MoTe</text>
<text x="670.90" y="306.70" font-size="14.50" textLength="7.81" lengthAdjust="spacingAndGlyphs" fill="#000">2</text>
<text x="621.65" y="403.90" font-size="20.60" textLength="55.59" lengthAdjust="spacingAndGlyphs" fill="#000">MoSe</text>
<text x="677.00" y="407.90" font-size="14.50" textLength="7.81" lengthAdjust="spacingAndGlyphs" fill="#000">2</text>
<text x="621.26" y="463.50" font-size="20.60" textLength="51.23" lengthAdjust="spacingAndGlyphs" fill="#000">MoTe</text>
<text x="671.90" y="467.40" font-size="14.50" textLength="7.81" lengthAdjust="spacingAndGlyphs" fill="#000">2</text>
</svg>
</body></html>
